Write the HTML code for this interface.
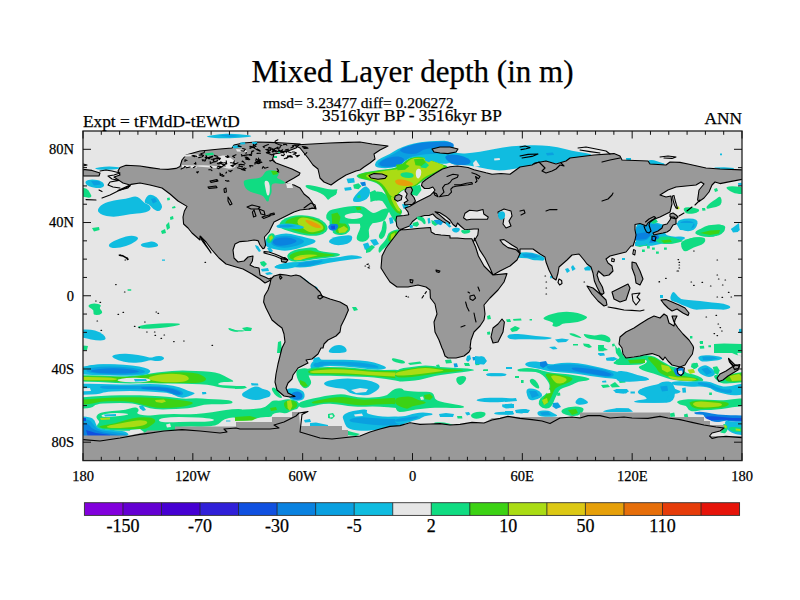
<!DOCTYPE html><html><head><meta charset="utf-8"><title>Mixed Layer depth</title><style>html,body{margin:0;padding:0;background:#fff;}svg{display:block;}text{font-family:"Liberation Serif",serif;fill:#000;stroke:#000;stroke-width:0.25px;}</style></head><body>
<svg width="800" height="600" viewBox="0 0 800 600">
<rect width="800" height="600" fill="#fff"/>
<clipPath id="c"><rect x="83.0" y="131.0" width="659.0" height="329.6"/></clipPath>
<g clip-path="url(#c)">
<rect x="83.0" y="131.0" width="659.0" height="329.6" fill="#e6e6e6"/>
<path d="M282.0 220.5Q285.0 218.0 290.5 216.5Q296.0 215.0 302.0 215.3Q308.0 215.6 313.0 216.8Q318.0 218.0 322.0 220.5Q326.0 223.0 327.2 226.0Q328.4 229.0 326.2 231.5Q324.0 234.0 319.0 235.2Q314.0 236.4 307.0 235.4Q300.0 234.4 294.0 232.7Q288.0 231.0 284.0 229.5Q280.0 228.0 279.5 225.5Q279.0 223.0 282.0 220.5Z" fill="#10dc82"/>
<path d="M288.0 219.8Q292.0 217.6 297.0 216.8Q302.0 216.0 308.0 217.0Q314.0 218.0 318.5 220.5Q323.0 223.0 324.5 226.0Q326.0 229.0 323.5 231.0Q321.0 233.0 315.5 233.7Q310.0 234.4 304.0 233.2Q298.0 232.0 293.0 230.0Q288.0 228.0 286.0 225.0Q284.0 222.0 288.0 219.8Z" fill="#3cd214"/>
<path d="M299.5 218.5Q302.0 217.0 307.0 218.0Q312.0 219.0 317.0 221.5Q322.0 224.0 323.0 226.5Q324.0 229.0 321.5 230.0Q319.0 231.0 314.5 232.0Q310.0 233.0 307.0 231.0Q304.0 229.0 301.0 227.0Q298.0 225.0 297.5 222.5Q297.0 220.0 299.5 218.5Z" fill="#aadc14"/>
<path d="M307.0 220.0Q310.0 220.4 315.0 222.7Q320.0 225.0 320.8 226.5Q321.6 228.0 318.8 228.0Q316.0 228.0 312.5 226.5Q309.0 225.0 306.5 222.3Q304.0 219.6 307.0 220.0Z" fill="#e6a00a"/>
<path d="M281.0 224.0Q286.0 223.0 292.0 223.7Q298.0 224.4 302.0 226.0Q306.0 227.6 302.0 228.4Q298.0 229.2 292.0 228.8Q286.0 228.4 281.5 228.2Q277.0 228.0 276.5 226.5Q276.0 225.0 281.0 224.0Z" fill="#10bce0"/>
<path d="M279.0 225.6 L288.0 224.4 L296.0 226.0 L288.0 227.6 L280.0 227.2Z" fill="#0aa0e0"/>
<path d="M332.5 211.0Q336.0 210.0 339.0 211.0Q342.0 212.0 343.0 215.0Q344.0 218.0 346.0 220.5Q348.0 223.0 349.5 226.0Q351.0 229.0 349.0 231.5Q347.0 234.0 343.0 234.8Q339.0 235.6 335.5 234.3Q332.0 233.0 332.8 231.0Q333.6 229.0 331.3 227.5Q329.0 226.0 329.5 223.0Q330.0 220.0 329.0 218.0Q328.0 216.0 328.5 214.0Q329.0 212.0 332.5 211.0Z" fill="#10dc82"/>
<path d="M336.0 214.5Q339.0 214.0 340.5 217.0Q342.0 220.0 344.5 222.5Q347.0 225.0 348.0 227.5Q349.0 230.0 346.5 231.5Q344.0 233.0 340.5 233.3Q337.0 233.6 336.0 231.8Q335.0 230.0 337.0 228.5Q339.0 227.0 337.5 225.0Q336.0 223.0 334.2 221.5Q332.4 220.0 332.7 217.5Q333.0 215.0 336.0 214.5Z" fill="#3cd214"/>
<path d="M334.0 216.0 L339.0 215.6 L340.4 221.0 L337.0 223.0 L334.0 220.0Z" fill="#aadc14"/>
<path d="M338.0 229.0 L344.0 226.0 L348.0 229.0 L345.0 232.4 L339.0 233.0Z" fill="#aadc14"/>
<path d="M331.2 224.0Q334.0 223.0 336.5 224.0Q339.0 225.0 338.0 227.5Q337.0 230.0 334.0 230.5Q331.0 231.0 329.5 229.5Q328.0 228.0 328.2 226.5Q328.4 225.0 331.2 224.0Z" fill="#0a82e0"/>
<path d="M331.0 226.0 L335.0 225.6 L335.0 229.0 L331.6 229.4Z" fill="#1050e0"/>
<path d="M341.0 209.5Q346.0 209.0 351.0 207.5Q356.0 206.0 360.0 206.2Q364.0 206.4 366.0 208.2Q368.0 210.0 371.0 212.0Q374.0 214.0 378.0 211.5Q382.0 209.0 385.5 208.5Q389.0 208.0 389.5 210.0Q390.0 212.0 387.0 214.0Q384.0 216.0 381.0 217.5Q378.0 219.0 375.0 221.0Q372.0 223.0 370.0 226.5Q368.0 230.0 369.0 233.5Q370.0 237.0 368.0 239.3Q366.0 241.6 363.0 241.8Q360.0 242.0 358.0 240.5Q356.0 239.0 357.0 236.0Q358.0 233.0 359.5 230.0Q361.0 227.0 360.0 224.5Q359.0 222.0 361.5 220.0Q364.0 218.0 365.0 216.0Q366.0 214.0 364.0 213.0Q362.0 212.0 359.0 213.0Q356.0 214.0 353.0 215.5Q350.0 217.0 347.5 217.5Q345.0 218.0 343.5 215.0Q342.0 212.0 339.0 211.0Q336.0 210.0 341.0 209.5Z" fill="#10dc82"/>
<path d="M358.0 214.0 L361.6 212.8 L364.0 215.0 L361.0 217.2 L358.0 216.4Z" fill="#e6e6e6"/>
<path d="M384.5 220.5Q386.0 221.0 386.5 224.5Q387.0 228.0 386.0 232.0Q385.0 236.0 383.0 238.0Q381.0 240.0 379.5 238.0Q378.0 236.0 380.0 233.0Q382.0 230.0 382.5 225.0Q383.0 220.0 384.5 220.5Z" fill="#10dc82"/>
<path d="M391.0 231.5Q394.0 230.0 397.0 229.5Q400.0 229.0 399.0 231.0Q398.0 233.0 396.0 236.5Q394.0 240.0 391.0 242.5Q388.0 245.0 385.0 247.5Q382.0 250.0 380.5 252.0Q379.0 254.0 378.5 251.0Q378.0 248.0 380.5 245.5Q383.0 243.0 385.0 240.5Q387.0 238.0 387.5 235.5Q388.0 233.0 391.0 231.5Z" fill="#10dc82"/>
<path d="M392.0 232.3Q394.4 231.0 396.2 231.0Q398.0 231.0 396.5 234.5Q395.0 238.0 392.5 240.2Q390.0 242.4 388.8 241.2Q387.6 240.0 388.6 236.8Q389.6 233.6 392.0 232.3Z" fill="#3cd214"/>
<path d="M391.0 234.4 L395.0 232.4 L394.4 237.0 L390.6 240.0Z" fill="#aadc14"/>
<path d="M366.0 248.0 L372.0 245.0 L375.0 247.0 L370.0 252.0 L366.0 253.0Z" fill="#10dc82"/>
<path d="M363.0 244.0 L368.0 242.4 L370.0 247.0 L365.0 250.0Z" fill="#10bce0"/>
<path d="M370.0 240.0 L376.0 239.0 L379.0 244.0 L374.0 246.0Z" fill="#10bce0"/>
<path d="M389.0 218.0 L392.4 217.0 L393.6 223.0 L390.0 224.0Z" fill="#10bce0"/>
<path d="M331.0 239.0Q334.0 237.0 339.0 236.3Q344.0 235.6 348.0 235.3Q352.0 235.0 352.2 237.5Q352.4 240.0 350.2 242.0Q348.0 244.0 343.0 244.8Q338.0 245.6 334.5 244.8Q331.0 244.0 329.5 242.5Q328.0 241.0 331.0 239.0Z" fill="#10bce0"/>
<path d="M270.5 236.5Q276.0 235.0 281.0 234.0Q286.0 233.0 291.0 234.0Q296.0 235.0 302.0 236.5Q308.0 238.0 312.0 239.0Q316.0 240.0 315.5 241.5Q315.0 243.0 310.5 244.5Q306.0 246.0 301.0 247.5Q296.0 249.0 291.0 250.0Q286.0 251.0 282.0 250.5Q278.0 250.0 271.5 248.5Q265.0 247.0 265.0 242.5Q265.0 238.0 270.5 236.5Z" fill="#10bce0"/>
<path d="M275.5 237.3Q280.0 235.6 286.0 235.8Q292.0 236.0 297.0 237.5Q302.0 239.0 303.5 240.5Q305.0 242.0 301.5 243.8Q298.0 245.6 292.0 246.8Q286.0 248.0 281.0 247.5Q276.0 247.0 273.5 245.5Q271.0 244.0 271.0 241.5Q271.0 239.0 275.5 237.3Z" fill="#0aa0e0"/>
<path d="M277.0 238.5Q282.0 237.0 287.0 237.5Q292.0 238.0 295.0 239.5Q298.0 241.0 295.0 242.5Q292.0 244.0 287.0 245.0Q282.0 246.0 278.0 245.5Q274.0 245.0 273.0 242.5Q272.0 240.0 277.0 238.5Z" fill="#0a82e0"/>
<path d="M290.5 252.0Q294.0 250.0 299.0 249.0Q304.0 248.0 310.0 247.5Q316.0 247.0 317.0 249.0Q318.0 251.0 324.0 251.7Q330.0 252.4 335.0 253.0Q340.0 253.6 340.0 254.8Q340.0 256.0 335.0 256.8Q330.0 257.6 323.0 258.3Q316.0 259.0 310.0 260.0Q304.0 261.0 298.0 261.5Q292.0 262.0 289.8 260.5Q287.6 259.0 287.3 256.5Q287.0 254.0 290.5 252.0Z" fill="#10dc82"/>
<path d="M293.5 253.0Q298.0 251.0 304.0 250.5Q310.0 250.0 313.5 251.2Q317.0 252.4 323.5 253.2Q330.0 254.0 333.5 254.5Q337.0 255.0 332.5 255.7Q328.0 256.4 319.0 257.2Q310.0 258.0 303.0 259.2Q296.0 260.4 293.0 259.7Q290.0 259.0 289.5 257.0Q289.0 255.0 293.5 253.0Z" fill="#3cd214"/>
<path d="M296.5 256.5Q300.0 255.0 305.0 254.7Q310.0 254.4 315.0 254.7Q320.0 255.0 315.0 256.0Q310.0 257.0 305.0 258.5Q300.0 260.0 297.0 260.2Q294.0 260.4 293.5 259.2Q293.0 258.0 296.5 256.5Z" fill="#aadc14"/>
<path d="M295.0 259.0 L302.0 257.0 L307.0 257.6 L300.0 260.0Z" fill="#dcc814"/>
<path d="M280.0 264.5Q286.0 263.0 293.0 262.5Q300.0 262.0 308.0 260.8Q316.0 259.6 323.0 258.8Q330.0 258.0 335.0 257.5Q340.0 257.0 345.0 256.0Q350.0 255.0 355.0 255.5Q360.0 256.0 361.5 257.0Q363.0 258.0 359.5 258.5Q356.0 259.0 351.0 259.5Q346.0 260.0 340.0 261.0Q334.0 262.0 328.0 263.0Q322.0 264.0 316.0 265.5Q310.0 267.0 305.0 267.3Q300.0 267.6 295.0 267.3Q290.0 267.0 286.0 267.7Q282.0 268.4 278.5 268.4Q275.0 268.4 274.5 267.2Q274.0 266.0 280.0 264.5Z" fill="#10bce0"/>
<path d="M297.0 263.2Q302.0 262.4 309.0 261.4Q316.0 260.4 320.0 260.4Q324.0 260.4 322.0 261.8Q320.0 263.2 315.0 264.6Q310.0 266.0 305.0 266.4Q300.0 266.8 296.5 266.4Q293.0 266.0 292.5 265.0Q292.0 264.0 297.0 263.2Z" fill="#0aa0e0"/>
<path d="M310.5 185.2Q316.0 186.0 321.0 187.5Q326.0 189.0 331.8 189.8Q337.6 190.6 336.8 192.8Q336.0 195.0 333.3 196.3Q330.6 197.6 329.3 199.1Q328.0 200.5 327.0 198.8Q326.0 197.0 323.5 195.0Q321.0 193.0 316.5 191.5Q312.0 190.0 309.0 189.0Q306.0 188.0 305.5 186.2Q305.0 184.5 310.5 185.2Z" fill="#10dc82"/>
<path d="M362.0 188.5Q366.0 185.0 368.0 188.0Q370.0 191.0 369.0 194.0Q368.0 197.0 365.0 199.0Q362.0 201.0 358.0 201.5Q354.0 202.0 353.2 200.5Q352.4 199.0 355.2 195.5Q358.0 192.0 362.0 188.5Z" fill="#10bce0"/>
<path d="M374.5 192.0Q378.0 191.0 382.0 192.5Q386.0 194.0 388.0 196.5Q390.0 199.0 392.0 202.0Q394.0 205.0 397.0 206.5Q400.0 208.0 401.5 210.0Q403.0 212.0 400.5 213.5Q398.0 215.0 395.0 213.0Q392.0 211.0 390.0 208.0Q388.0 205.0 385.0 202.5Q382.0 200.0 378.0 200.5Q374.0 201.0 372.0 199.5Q370.0 198.0 370.5 195.5Q371.0 193.0 374.5 192.0Z" fill="#10dc82"/>
<path d="M387.5 189.0Q390.0 185.0 394.0 185.0Q398.0 185.0 396.5 191.0Q395.0 197.0 393.0 198.5Q391.0 200.0 389.5 199.0Q388.0 198.0 386.5 195.5Q385.0 193.0 387.5 189.0Z" fill="#aadc14"/>
<path d="M392.5 204.0Q395.0 206.0 397.5 207.5Q400.0 209.0 400.5 210.7Q401.0 212.4 399.0 213.0Q397.0 213.6 394.7 211.6Q392.4 209.6 391.0 207.3Q389.6 205.0 389.8 203.5Q390.0 202.0 392.5 204.0Z" fill="#3cd214"/>
<path d="M392.4 206.0 L398.0 209.6 L399.6 212.0 L396.4 212.4 L393.0 209.0Z" fill="#aadc14"/>
<path d="M378.0 160.0Q381.0 157.8 385.5 155.9Q390.0 154.0 393.8 151.4Q397.5 148.8 402.8 146.9Q408.0 145.0 414.0 143.5Q420.0 142.0 427.5 141.4Q435.0 140.8 444.4 140.8Q453.8 140.8 453.8 151.2Q453.8 161.5 448.9 163.0Q444.0 164.5 439.5 163.4Q435.0 162.2 429.0 159.6Q423.0 157.0 418.5 157.0Q414.0 157.0 409.5 158.5Q405.0 160.0 402.0 163.0Q399.0 166.0 394.5 167.1Q390.0 168.2 385.5 168.2Q381.0 168.2 378.0 167.5Q375.0 166.8 375.0 164.5Q375.0 162.2 378.0 160.0Z" fill="#10bce0"/>
<path d="M381.0 160.4Q384.0 158.5 388.5 156.6Q393.0 154.8 396.8 152.1Q400.5 149.5 405.0 147.6Q409.5 145.8 414.8 144.2Q420.0 142.8 427.5 142.1Q435.0 141.4 444.4 141.6Q453.8 141.7 453.8 147.8Q453.8 154.0 447.4 153.2Q441.0 152.5 438.0 153.2Q435.0 154.0 430.5 154.0Q426.0 154.0 421.5 154.8Q417.0 155.5 412.5 156.6Q408.0 157.8 405.0 161.1Q402.0 164.5 397.5 166.0Q393.0 167.5 387.8 167.5Q382.5 167.5 380.2 166.6Q378.0 165.7 378.0 164.0Q378.0 162.2 381.0 160.4Z" fill="#0aa0e0"/>
<path d="M382.5 160.4Q385.5 158.5 390.0 157.4Q394.5 156.2 398.2 156.6Q402.0 157.0 403.5 158.5Q405.0 160.0 402.8 162.6Q400.5 165.2 396.8 166.0Q393.0 166.8 388.5 166.8Q384.0 166.8 381.8 166.0Q379.5 165.2 379.5 163.8Q379.5 162.2 382.5 160.4Z" fill="#0a82e0"/>
<path d="M403.5 147.6Q408.0 145.8 414.0 144.2Q420.0 142.8 427.5 142.2Q435.0 141.7 444.4 141.8Q453.8 142.0 453.8 145.0Q453.8 148.0 447.4 147.2Q441.0 146.5 436.5 147.2Q432.0 148.0 427.5 148.8Q423.0 149.5 420.0 151.8Q417.0 154.0 412.5 154.0Q408.0 154.0 405.0 153.2Q402.0 152.5 400.5 151.0Q399.0 149.5 403.5 147.6Z" fill="#0a82e0"/>
<path d="M360.0 173.7Q364.5 172.3 369.8 171.6Q375.0 170.8 379.5 170.1Q384.0 169.3 388.5 168.9Q393.0 168.6 396.8 167.1Q400.5 165.6 403.5 162.6Q406.5 159.6 410.2 158.1Q414.0 156.6 418.5 156.6Q423.0 156.6 429.0 159.2Q435.0 161.8 439.5 163.3Q444.0 164.8 446.6 165.8Q449.2 166.8 443.6 169.2Q438.0 171.7 435.0 173.6Q432.0 175.4 429.0 176.9Q426.0 178.4 423.0 180.7Q420.0 182.9 417.8 184.8Q415.5 186.7 411.8 187.8Q408.0 188.9 405.0 189.7Q402.0 190.4 399.8 192.7Q397.5 194.9 396.2 197.3Q394.9 199.8 395.7 202.4Q396.4 205.0 398.7 207.2Q400.9 209.5 401.7 211.8Q402.4 214.0 399.8 214.2Q397.1 214.4 394.1 211.4Q391.1 208.3 389.6 205.3Q388.1 202.3 387.3 199.3Q386.6 196.3 385.1 193.3Q383.6 190.3 381.3 187.3Q379.1 184.3 376.1 182.9Q373.1 181.4 369.3 180.7Q365.6 179.9 362.0 179.1Q358.5 178.3 357.0 176.7Q355.5 175.0 360.0 173.7Z" fill="#10dc82"/>
<path d="M360.8 173.9Q364.5 172.8 369.8 172.0Q375.0 171.2 379.5 170.5Q384.0 169.8 388.5 169.4Q393.0 169.0 396.8 167.5Q400.5 166.0 403.5 163.0Q406.5 160.0 410.2 158.5Q414.0 157.0 418.5 157.0Q423.0 157.0 429.0 159.6Q435.0 162.2 439.5 163.8Q444.0 165.2 446.2 166.0Q448.5 166.8 443.2 169.0Q438.0 171.2 435.0 173.1Q432.0 175.0 429.0 176.5Q426.0 178.0 423.0 180.2Q420.0 182.5 417.8 184.4Q415.5 186.2 411.8 187.4Q408.0 188.5 405.0 189.2Q402.0 190.0 399.8 192.2Q397.5 194.5 396.0 197.1Q394.5 199.8 395.2 202.4Q396.0 205.0 398.2 207.2Q400.5 209.5 401.2 211.8Q402.0 214.0 399.8 214.0Q397.5 214.0 394.5 211.0Q391.5 208.0 390.0 205.0Q388.5 202.0 387.8 199.0Q387.0 196.0 385.5 193.0Q384.0 190.0 381.8 187.0Q379.5 184.0 376.5 182.5Q373.5 181.0 369.8 180.2Q366.0 179.5 363.0 178.8Q360.0 178.0 358.5 176.5Q357.0 175.0 360.8 173.9Z" fill="#3cd214"/>
<path d="M369.8 173.9Q375.0 172.8 381.0 171.6Q387.0 170.5 391.5 170.1Q396.0 169.8 399.8 168.2Q403.5 166.8 405.8 163.8Q408.0 160.8 411.0 159.2Q414.0 157.8 418.5 157.8Q423.0 157.8 426.0 158.9Q429.0 160.0 433.5 161.5Q438.0 163.0 441.8 164.5Q445.5 166.0 441.8 168.2Q438.0 170.5 434.2 172.4Q430.5 174.2 426.8 176.1Q423.0 178.0 420.0 181.0Q417.0 184.0 414.0 185.5Q411.0 187.0 407.2 188.1Q403.5 189.2 400.9 191.1Q398.2 193.0 396.4 195.2Q394.5 197.5 392.2 196.8Q390.0 196.0 388.5 193.0Q387.0 190.0 384.8 187.0Q382.5 184.0 379.5 182.1Q376.5 180.2 372.8 179.5Q369.0 178.8 366.8 176.9Q364.5 175.0 369.8 173.9Z" fill="#aadc14"/>
<path d="M397.5 179.5Q400.5 178.8 405.8 180.2Q411.0 181.8 412.5 183.2Q414.0 184.8 411.0 185.5Q408.0 186.2 404.2 185.9Q400.5 185.5 398.2 184.8Q396.0 184.0 395.2 182.1Q394.5 180.2 397.5 179.5Z" fill="#e6a00a"/>
<path d="M404.2 172.4Q408.0 172.0 411.0 173.1Q414.0 174.2 413.6 176.1Q413.2 178.0 409.1 178.0Q405.0 178.0 402.6 176.9Q400.2 175.8 400.4 174.2Q400.5 172.8 404.2 172.4Z" fill="#10dc82"/>
<path d="M418.1 168.8Q420.0 168.2 420.9 170.1Q421.8 172.0 420.9 175.0Q420.0 178.0 418.5 178.4Q417.0 178.8 416.2 176.5Q415.5 174.2 415.9 171.8Q416.2 169.3 418.1 168.8Z" fill="#e6e6e6"/>
<path d="M420.0 163.8 L426.0 162.2 L429.0 165.2 L426.0 168.2 L420.8 167.5Z" fill="#10dc82"/>
<path d="M424.5 157.0 L429.0 156.2 L432.0 160.0 L429.0 162.2 L425.2 160.8Z" fill="#10bce0"/>
<path d="M353.2 184.8 L358.5 183.2 L361.5 186.2 L358.5 189.2 L354.0 188.5Z" fill="#10dc82"/>
<path d="M346.5 178.8 L354.0 178.0 L354.8 182.5 L348.0 183.2Z" fill="#10bce0"/>
<path d="M360.0 182.5 L365.2 181.8 L366.0 185.5 L362.2 186.2Z" fill="#0a82e0"/>
<path d="M357.0 195.2Q361.5 190.0 365.2 188.5Q369.0 187.0 369.8 190.0Q370.5 193.0 369.0 196.0Q367.5 199.0 363.8 200.5Q360.0 202.0 357.0 202.0Q354.0 202.0 353.2 201.2Q352.5 200.5 357.0 195.2Z" fill="#10bce0"/>
<path d="M344.2 187.8 L351.0 187.0 L351.8 190.0 L345.0 190.8Z" fill="#10bce0"/>
<path d="M369.8 192.2 L375.0 190.0 L378.0 194.5 L375.0 200.5 L370.5 202.0Z" fill="#10dc82"/>
<path d="M326.2 190.0 L337.5 189.2 L336.0 194.5 L326.2 197.5Z" fill="#10dc82"/>
<path d="M332.6 209.5Q339.0 208.0 343.5 207.2Q348.0 206.5 354.0 206.1Q360.0 205.8 363.0 206.9Q366.0 208.0 366.0 211.0Q366.0 214.0 370.5 215.5Q375.0 217.0 378.8 214.0Q382.5 211.0 384.8 210.2Q387.0 209.5 387.8 211.8Q388.5 214.0 385.5 218.9Q382.5 223.8 354.4 223.8Q326.2 223.8 326.2 217.4Q326.2 211.0 332.6 209.5Z" fill="#10dc82"/>
<path d="M345.8 214.8Q348.0 213.2 354.0 212.9Q360.0 212.5 361.9 214.0Q363.8 215.5 361.9 217.0Q360.0 218.5 354.0 218.9Q348.0 219.2 345.8 217.8Q343.5 216.2 345.8 214.8Z" fill="#e6e6e6"/>
<path d="M355.5 207.2 L360.0 206.8 L361.5 209.5 L357.0 210.2Z" fill="#3cd214"/>
<path d="M331.5 214.0 L337.5 212.5 L340.5 217.0 L339.0 223.8 L332.2 223.8Z" fill="#3cd214"/>
<path d="M383.2 193.0Q387.0 196.0 388.5 200.5Q390.0 205.0 393.8 209.5Q397.5 214.0 399.8 214.0Q402.0 214.0 402.8 218.9Q403.5 223.8 399.8 223.8Q396.0 223.8 393.0 218.9Q390.0 214.0 387.8 209.5Q385.5 205.0 382.5 201.2Q379.5 197.5 379.5 193.8Q379.5 190.0 383.2 193.0Z" fill="#10dc82"/>
<path d="M411.0 187.0 L420.0 184.8 L421.5 190.0 L417.0 196.0 L411.0 194.5Z" fill="#10dc82"/>
<path d="M402.0 204.2 L408.0 203.5 L408.8 208.0 L403.5 208.8Z" fill="#10bce0"/>
<path d="M357.0 196.0 L360.0 194.5 L360.8 197.5 L357.8 198.2Z" fill="#10dc82"/>
<path d="M452.0 151.0Q458.0 154.0 465.0 153.5Q472.0 153.0 480.0 151.7Q488.0 150.4 496.0 148.7Q504.0 147.0 512.0 146.3Q520.0 145.6 530.0 145.3Q540.0 145.0 549.0 146.0Q558.0 147.0 565.0 149.0Q572.0 151.0 579.0 152.0Q586.0 153.0 590.0 154.0Q594.0 155.0 582.0 157.0Q570.0 159.0 568.0 160.0Q566.0 161.0 561.0 162.5Q556.0 164.0 551.0 162.5Q546.0 161.0 540.5 162.0Q535.0 163.0 533.5 164.0Q532.0 165.0 526.0 166.5Q520.0 168.0 510.0 169.5Q500.0 171.0 494.0 170.0Q488.0 169.0 480.0 167.5Q472.0 166.0 468.0 165.5Q464.0 165.0 459.0 165.0Q454.0 165.0 451.0 163.5Q448.0 162.0 446.0 159.0Q444.0 156.0 445.0 152.0Q446.0 148.0 452.0 151.0Z" fill="#10bce0"/>
<path d="M448.0 155.0Q452.0 154.0 458.0 155.0Q464.0 156.0 468.0 158.5Q472.0 161.0 470.0 163.0Q468.0 165.0 462.0 165.0Q456.0 165.0 452.0 163.5Q448.0 162.0 446.0 159.0Q444.0 156.0 448.0 155.0Z" fill="#0a82e0"/>
<path d="M473.0 163.0 L476.0 160.0 L480.0 166.0 L474.0 167.0Z" fill="#e6e6e6"/>
<path d="M494.0 158.4 L499.6 158.0 L500.0 160.0 L494.4 160.4Z" fill="#e6e6e6"/>
<path d="M546.0 153.0 L553.0 152.4 L554.0 155.0 L547.0 155.6Z" fill="#0aa0e0"/>
<path d="M651.0 160.0Q654.0 160.0 657.0 161.2Q660.0 162.4 663.0 163.2Q666.0 164.0 663.0 165.0Q660.0 166.0 656.0 165.8Q652.0 165.6 650.5 164.6Q649.0 163.6 648.5 161.8Q648.0 160.0 651.0 160.0Z" fill="#10bce0"/>
<path d="M626.0 158.0 L631.0 158.0 L631.0 160.4 L626.4 160.4Z" fill="#10bce0"/>
<path d="M651.0 160.5Q654.0 161.0 657.0 162.0Q660.0 163.0 663.0 163.5Q666.0 164.0 663.0 165.0Q660.0 166.0 656.0 165.8Q652.0 165.6 650.5 164.6Q649.0 163.6 648.5 161.8Q648.0 160.0 651.0 160.5Z" fill="#10bce0"/>
<path d="M714.0 167.6 L724.0 167.2 L734.0 168.0 L733.0 170.0 L720.0 170.0Z" fill="#10bce0"/>
<path d="M720.0 153.6 L722.0 153.6 L722.0 155.2 L720.0 155.2Z" fill="#10bce0"/>
<path d="M99.5 207.0Q102.0 204.0 108.0 202.0Q114.0 200.0 120.0 199.5Q126.0 199.0 130.5 197.5Q135.0 196.0 137.5 197.0Q140.0 198.0 142.0 200.5Q144.0 203.0 147.0 204.0Q150.0 205.0 150.5 207.5Q151.0 210.0 147.5 211.5Q144.0 213.0 137.0 213.5Q130.0 214.0 123.0 215.5Q116.0 217.0 111.0 216.5Q106.0 216.0 103.0 215.0Q100.0 214.0 98.5 212.0Q97.0 210.0 99.5 207.0Z" fill="#10bce0"/>
<path d="M148.0 195.5Q150.0 194.0 153.5 195.5Q157.0 197.0 158.5 199.5Q160.0 202.0 161.5 204.5Q163.0 207.0 161.0 209.5Q159.0 212.0 156.0 210.5Q153.0 209.0 151.0 206.5Q149.0 204.0 146.5 203.5Q144.0 203.0 145.0 200.0Q146.0 197.0 148.0 195.5Z" fill="#10bce0"/>
<path d="M151.0 199.0 L155.0 198.0 L157.0 201.6 L153.0 203.6Z" fill="#0aa0e0"/>
<path d="M88.5 180.0Q92.0 179.0 97.0 180.0Q102.0 181.0 103.5 183.5Q105.0 186.0 102.5 187.2Q100.0 188.4 96.0 188.0Q92.0 187.6 89.0 186.3Q86.0 185.0 85.5 183.0Q85.0 181.0 88.5 180.0Z" fill="#10bce0"/>
<path d="M91.0 181.0 L99.0 181.0 L101.0 184.4 L94.0 185.6Z" fill="#0aa0e0"/>
<path d="M81.0 187.5Q87.0 188.0 88.5 190.5Q90.0 193.0 91.0 195.0Q92.0 197.0 90.0 197.5Q88.0 198.0 81.5 196.5Q75.0 195.0 75.0 191.0Q75.0 187.0 81.0 187.5Z" fill="#10dc82"/>
<path d="M100.0 167.2Q106.0 166.4 113.0 166.7Q120.0 167.0 119.5 168.0Q119.0 169.0 112.5 169.5Q106.0 170.0 101.5 169.8Q97.0 169.6 95.5 168.8Q94.0 168.0 100.0 167.2Z" fill="#10bce0"/>
<path d="M92.0 228.0 L99.0 227.0 L99.6 230.0 L94.0 231.6Z" fill="#10dc82"/>
<path d="M166.0 225.0 L169.0 222.0 L170.0 228.0 L167.0 230.0Z" fill="#10dc82"/>
<path d="M161.0 231.0 L165.0 229.0 L166.0 233.0 L162.0 234.0Z" fill="#10dc82"/>
<path d="M170.0 217.0 L173.0 216.0 L173.6 219.0 L170.4 220.0Z" fill="#10dc82"/>
<path d="M172.0 207.0 L175.0 206.0 L175.6 208.0 L172.4 208.4Z" fill="#10dc82"/>
<path d="M167.0 198.0 L169.6 197.6 L170.0 200.0 L167.4 200.4Z" fill="#10dc82"/>
<path d="M114.0 241.0Q120.0 238.0 126.0 236.5Q132.0 235.0 136.0 236.5Q140.0 238.0 136.0 241.0Q132.0 244.0 126.0 246.0Q120.0 248.0 115.0 248.0Q110.0 248.0 109.0 246.0Q108.0 244.0 114.0 241.0Z" fill="#10bce0"/>
<path d="M144.0 243.0Q148.0 242.0 151.0 241.5Q154.0 241.0 157.0 243.5Q160.0 246.0 155.0 247.0Q150.0 248.0 146.0 247.5Q142.0 247.0 141.0 245.5Q140.0 244.0 144.0 243.0Z" fill="#10bce0"/>
<path d="M212.5 135.2Q220.0 134.0 226.0 133.8Q232.0 133.6 244.0 134.8Q256.0 136.0 248.0 137.0Q240.0 138.0 230.0 138.2Q220.0 138.4 215.0 138.0Q210.0 137.6 207.5 137.0Q205.0 136.4 212.5 135.2Z" fill="#10bce0"/>
<path d="M218.0 135.6 L230.0 134.6 L240.0 136.0 L230.0 137.2Z" fill="#0aa0e0"/>
<path d="M141.5 325.4Q146.0 324.4 153.0 324.0Q160.0 323.6 167.0 323.3Q174.0 323.0 178.0 323.5Q182.0 324.0 178.0 325.2Q174.0 326.4 167.0 327.2Q160.0 328.0 153.0 328.5Q146.0 329.0 142.5 328.7Q139.0 328.4 138.0 327.4Q137.0 326.4 141.5 325.4Z" fill="#10dc82"/>
<path d="M91.0 304.0Q94.0 303.0 98.0 304.0Q102.0 305.0 100.5 306.5Q99.0 308.0 101.0 310.0Q103.0 312.0 101.5 313.5Q100.0 315.0 96.5 315.0Q93.0 315.0 93.5 312.5Q94.0 310.0 91.5 308.8Q89.0 307.6 88.5 306.3Q88.0 305.0 91.0 304.0Z" fill="#10dc82"/>
<path d="M82.5 329.5Q90.0 329.0 95.0 330.5Q100.0 332.0 103.0 334.5Q106.0 337.0 105.5 338.7Q105.0 340.4 100.5 340.4Q96.0 340.4 91.0 339.4Q86.0 338.4 80.5 337.2Q75.0 336.0 75.0 333.0Q75.0 330.0 82.5 329.5Z" fill="#10bce0"/>
<path d="M75.0 345.0 L88.0 346.0 L87.0 350.0 L75.0 350.4Z" fill="#10dc82"/>
<path d="M115.0 354.8Q120.0 353.6 126.0 353.8Q132.0 354.0 138.0 355.0Q144.0 356.0 147.5 357.0Q151.0 358.0 153.5 357.0Q156.0 356.0 159.0 356.0Q162.0 356.0 163.5 357.2Q165.0 358.4 163.0 359.7Q161.0 361.0 158.0 361.0Q155.0 361.0 152.5 360.5Q150.0 360.0 146.0 361.2Q142.0 362.4 136.0 362.7Q130.0 363.0 124.0 361.7Q118.0 360.4 114.0 358.2Q110.0 356.0 115.0 354.8Z" fill="#10bce0"/>
<path d="M92.0 365.0Q100.0 364.0 110.0 364.5Q120.0 365.0 128.0 366.0Q136.0 367.0 138.0 370.0Q140.0 373.0 112.0 373.0Q84.0 373.0 84.0 369.5Q84.0 366.0 92.0 365.0Z" fill="#10bce0"/>
<path d="M230.0 328.5Q232.0 329.0 233.5 329.7Q235.0 330.4 240.0 330.2Q245.0 330.0 245.0 330.8Q245.0 331.6 239.5 331.6Q234.0 331.6 231.5 330.6Q229.0 329.6 228.5 328.8Q228.0 328.0 230.0 328.5Z" fill="#10dc82"/>
<path d="M162.0 259.6 L165.0 259.6 L165.0 260.8 L162.0 260.8Z" fill="#10bce0"/>
<path d="M127.6 289.2 L131.2 289.2 L131.2 290.8 L127.6 290.8Z" fill="#10dc82"/>
<path d="M230.5 328.5Q233.0 329.0 235.5 330.0Q238.0 331.0 238.5 331.5Q239.0 332.0 236.0 331.8Q233.0 331.6 231.0 330.8Q229.0 330.0 228.5 329.0Q228.0 328.0 230.5 328.5Z" fill="#10dc82"/>
<path d="M242.0 328.0 L247.0 327.0 L252.0 328.0 L251.0 331.0 L245.0 331.0Z" fill="#10dc82"/>
<path d="M278.0 342.0 L281.0 341.0 L282.0 353.0 L277.0 353.0Z" fill="#10dc82"/>
<path d="M352.0 307.0 L356.0 307.0 L358.0 310.0 L354.0 311.0Z" fill="#10dc82"/>
<path d="M255.0 245.0 L258.0 246.0 L261.0 251.0 L259.0 252.0 L256.0 248.0Z" fill="#10bce0"/>
<path d="M267.0 248.0 L270.0 247.0 L273.0 251.0 L270.0 253.0Z" fill="#10bce0"/>
<path d="M260.0 262.0 L264.0 261.0 L267.0 264.0 L264.0 267.0 L261.0 265.0Z" fill="#10dc82"/>
<path d="M261.0 269.0 L268.0 268.0 L269.0 271.0 L262.0 271.6Z" fill="#10bce0"/>
<path d="M265.0 273.0 L270.0 272.0 L273.0 274.0 L267.0 275.0Z" fill="#10bce0"/>
<path d="M269.5 234.2Q272.0 232.4 273.8 233.7Q275.6 235.0 274.3 237.5Q273.0 240.0 271.5 241.8Q270.0 243.6 268.2 242.8Q266.4 242.0 266.7 239.0Q267.0 236.0 269.5 234.2Z" fill="#10dc82"/>
<path d="M269.0 237.0 L272.0 235.0 L273.0 238.0 L270.0 241.0Z" fill="#aadc14"/>
<path d="M279.0 264.5Q284.0 263.0 289.0 262.5Q294.0 262.0 297.0 262.5Q300.0 263.0 298.0 265.0Q296.0 267.0 292.0 268.0Q288.0 269.0 283.0 269.0Q278.0 269.0 276.0 267.5Q274.0 266.0 279.0 264.5Z" fill="#10bce0"/>
<path d="M302.0 277.0Q304.0 278.0 307.0 280.5Q310.0 283.0 311.0 284.0Q312.0 285.0 310.5 285.0Q309.0 285.0 306.5 283.0Q304.0 281.0 302.5 279.5Q301.0 278.0 300.5 277.0Q300.0 276.0 302.0 277.0Z" fill="#10bce0"/>
<path d="M314.0 286.0 L317.0 287.0 L318.0 289.0 L315.0 288.0Z" fill="#10bce0"/>
<path d="M83.5 366.5Q92.0 365.0 99.0 364.5Q106.0 364.0 115.0 364.2Q124.0 364.4 132.0 365.4Q140.0 366.4 144.5 367.7Q149.0 369.0 150.0 370.5Q151.0 372.0 148.5 373.5Q146.0 375.0 138.0 375.5Q130.0 376.0 120.0 375.8Q110.0 375.6 101.0 375.3Q92.0 375.0 83.5 374.5Q75.0 374.0 75.0 371.0Q75.0 368.0 83.5 366.5Z" fill="#10bce0"/>
<path d="M93.0 367.7Q100.0 366.4 110.0 366.4Q120.0 366.4 129.0 367.4Q138.0 368.4 142.5 370.0Q147.0 371.6 143.5 372.8Q140.0 374.0 130.0 374.5Q120.0 375.0 110.0 374.5Q100.0 374.0 93.5 373.2Q87.0 372.4 86.5 370.7Q86.0 369.0 93.0 367.7Z" fill="#0aa0e0"/>
<path d="M100.0 369.0Q110.0 368.0 120.0 368.5Q130.0 369.0 136.0 370.3Q142.0 371.6 136.0 372.6Q130.0 373.6 120.0 373.6Q110.0 373.6 101.0 373.0Q92.0 372.4 91.0 371.2Q90.0 370.0 100.0 369.0Z" fill="#0a82e0"/>
<path d="M87.5 375.3Q100.0 375.6 110.0 376.0Q120.0 376.4 130.0 376.0Q140.0 375.6 145.0 374.6Q150.0 373.6 157.0 372.6Q164.0 371.6 172.0 371.0Q180.0 370.4 188.0 370.7Q196.0 371.0 203.0 371.3Q210.0 371.6 215.0 372.6Q220.0 373.6 224.0 375.8Q228.0 378.0 231.5 379.8Q235.0 381.6 231.5 381.8Q228.0 382.0 224.0 382.0Q220.0 382.0 218.5 383.5Q217.0 385.0 222.5 385.3Q228.0 385.6 236.5 386.0Q245.0 386.4 245.0 387.7Q245.0 389.0 236.5 388.7Q228.0 388.4 223.0 387.7Q218.0 387.0 213.0 385.7Q208.0 384.4 200.0 384.2Q192.0 384.0 184.0 383.8Q176.0 383.6 168.0 383.6Q160.0 383.6 153.0 383.3Q146.0 383.0 138.0 383.3Q130.0 383.6 123.0 383.3Q116.0 383.0 108.0 382.5Q100.0 382.0 87.5 381.8Q75.0 381.6 75.0 378.3Q75.0 375.0 87.5 375.3Z" fill="#10dc82"/>
<path d="M89.5 376.2Q104.0 376.4 114.0 376.8Q124.0 377.2 134.0 376.4Q144.0 375.6 152.0 374.3Q160.0 373.0 170.0 372.5Q180.0 372.0 188.0 372.5Q196.0 373.0 200.0 374.5Q204.0 376.0 205.5 378.0Q207.0 380.0 203.5 381.5Q200.0 383.0 190.0 383.0Q180.0 383.0 170.0 383.0Q160.0 383.0 153.0 382.5Q146.0 382.0 133.0 382.0Q120.0 382.0 110.0 381.5Q100.0 381.0 87.5 380.7Q75.0 380.4 75.0 378.2Q75.0 376.0 89.5 376.2Z" fill="#3cd214"/>
<path d="M87.5 377.0Q100.0 377.0 108.0 377.5Q116.0 378.0 117.0 379.0Q118.0 380.0 109.0 380.2Q100.0 380.4 87.5 380.2Q75.0 380.0 75.0 378.5Q75.0 377.0 87.5 377.0Z" fill="#aadc14"/>
<path d="M154.0 375.7Q160.0 374.4 167.0 374.0Q174.0 373.6 180.0 374.3Q186.0 375.0 188.0 377.0Q190.0 379.0 187.0 380.5Q184.0 382.0 176.0 382.2Q168.0 382.4 162.0 382.0Q156.0 381.6 152.5 380.6Q149.0 379.6 148.5 378.3Q148.0 377.0 154.0 375.7Z" fill="#aadc14"/>
<path d="M121.5 378.8Q126.0 378.0 133.0 377.8Q140.0 377.6 145.0 378.3Q150.0 379.0 150.5 380.0Q151.0 381.0 145.5 381.7Q140.0 382.4 132.0 382.2Q124.0 382.0 121.0 381.5Q118.0 381.0 117.5 380.3Q117.0 379.6 121.5 378.8Z" fill="#e6e6e6"/>
<path d="M134.0 379.0 L146.0 379.0 L147.0 381.0 L135.0 381.4Z" fill="#10bce0"/>
<path d="M83.5 383.8Q92.0 383.6 101.0 384.0Q110.0 384.4 120.0 384.4Q130.0 384.4 140.0 384.2Q150.0 384.0 158.0 384.2Q166.0 384.4 173.0 385.7Q180.0 387.0 184.0 389.0Q188.0 391.0 192.0 392.0Q196.0 393.0 194.0 394.0Q192.0 395.0 188.0 396.5Q184.0 398.0 181.0 397.5Q178.0 397.0 174.0 395.0Q170.0 393.0 163.0 392.5Q156.0 392.0 148.0 391.5Q140.0 391.0 130.0 391.0Q120.0 391.0 112.0 391.5Q104.0 392.0 102.0 393.0Q100.0 394.0 96.0 394.2Q92.0 394.4 83.5 394.7Q75.0 395.0 75.0 389.5Q75.0 384.0 83.5 383.8Z" fill="#10bce0"/>
<path d="M75.0 388.4 L90.0 388.0 L91.0 391.0 L75.0 391.6Z" fill="#e6e6e6"/>
<path d="M110.0 385.8Q120.0 386.0 130.0 386.0Q140.0 386.0 150.0 386.0Q160.0 386.0 167.0 387.0Q174.0 388.0 179.0 390.0Q184.0 392.0 183.0 394.0Q182.0 396.0 178.0 395.5Q174.0 395.0 170.0 393.0Q166.0 391.0 158.0 390.3Q150.0 389.6 140.0 389.3Q130.0 389.0 120.0 389.0Q110.0 389.0 105.0 388.7Q100.0 388.4 100.0 387.0Q100.0 385.6 110.0 385.8Z" fill="#0aa0e0"/>
<path d="M150.0 387.0Q160.0 387.0 167.0 388.0Q174.0 389.0 178.0 391.0Q182.0 393.0 180.0 394.3Q178.0 395.6 173.0 393.6Q168.0 391.6 162.0 390.8Q156.0 390.0 149.0 389.6Q142.0 389.2 141.0 388.1Q140.0 387.0 150.0 387.0Z" fill="#0a82e0"/>
<path d="M202.0 392.0 L206.0 392.0 L206.4 394.0 L202.4 394.4Z" fill="#10bce0"/>
<path d="M83.5 397.2Q92.0 396.4 101.0 396.0Q110.0 395.6 120.0 395.3Q130.0 395.0 140.0 395.3Q150.0 395.6 160.0 396.3Q170.0 397.0 177.0 398.0Q184.0 399.0 190.0 398.5Q196.0 398.0 202.0 398.5Q208.0 399.0 214.0 399.3Q220.0 399.6 226.0 400.0Q232.0 400.4 232.5 402.0Q233.0 403.6 226.5 404.0Q220.0 404.4 214.0 404.2Q208.0 404.0 204.0 404.8Q200.0 405.6 196.0 406.8Q192.0 408.0 184.0 408.5Q176.0 409.0 168.0 409.3Q160.0 409.6 155.0 409.0Q150.0 408.4 145.0 406.7Q140.0 405.0 135.0 404.0Q130.0 403.0 120.0 403.0Q110.0 403.0 103.0 403.5Q96.0 404.0 94.0 406.0Q92.0 408.0 83.5 408.5Q75.0 409.0 75.0 403.5Q75.0 398.0 83.5 397.2Z" fill="#10dc82"/>
<path d="M83.5 399.5Q92.0 399.0 98.0 398.5Q104.0 398.0 115.0 397.5Q126.0 397.0 136.0 397.3Q146.0 397.6 156.0 398.0Q166.0 398.4 175.0 399.4Q184.0 400.4 189.5 401.4Q195.0 402.4 191.5 404.2Q188.0 406.0 180.0 407.0Q172.0 408.0 164.0 408.0Q156.0 408.0 150.0 406.5Q144.0 405.0 138.0 403.3Q132.0 401.6 124.0 401.3Q116.0 401.0 108.0 401.3Q100.0 401.6 96.0 402.8Q92.0 404.0 83.5 404.5Q75.0 405.0 75.0 402.5Q75.0 400.0 83.5 399.5Z" fill="#3cd214"/>
<path d="M155.0 400.0 L164.0 399.6 L166.0 401.6 L162.0 403.0 L156.0 402.0Z" fill="#aadc14"/>
<path d="M82.5 416.5Q90.0 417.0 92.5 418.5Q95.0 420.0 95.5 423.0Q96.0 426.0 99.0 427.5Q102.0 429.0 109.0 429.5Q116.0 430.0 122.0 431.0Q128.0 432.0 128.5 434.7Q129.0 437.4 102.0 437.4Q75.0 437.4 75.0 426.7Q75.0 416.0 82.5 416.5Z" fill="#10bce0"/>
<path d="M82.0 419.0Q89.0 419.0 91.0 421.5Q93.0 424.0 95.5 427.0Q98.0 430.0 106.0 431.0Q114.0 432.0 120.5 433.0Q127.0 434.0 127.0 435.5Q127.0 437.0 101.0 437.0Q75.0 437.0 75.0 428.0Q75.0 419.0 82.0 419.0Z" fill="#0aa0e0"/>
<path d="M81.5 422.5Q88.0 423.0 90.0 426.0Q92.0 429.0 98.0 431.0Q104.0 433.0 112.0 434.0Q120.0 435.0 120.0 436.0Q120.0 437.0 97.5 437.0Q75.0 437.0 75.0 429.5Q75.0 422.0 81.5 422.5Z" fill="#0a82e0"/>
<path d="M86.0 430.0 L96.0 433.0 L110.0 435.0 L110.0 437.0 L88.0 437.0Z" fill="#1050e0"/>
<path d="M75.0 418.0 L86.0 418.0 L86.0 421.0 L75.0 421.0Z" fill="#1050e0"/>
<path d="M98.0 414.2Q100.0 412.4 106.0 411.7Q112.0 411.0 119.0 410.5Q126.0 410.0 130.0 408.5Q134.0 407.0 136.0 407.5Q138.0 408.0 138.5 409.5Q139.0 411.0 137.5 412.3Q136.0 413.6 141.0 414.8Q146.0 416.0 153.0 415.2Q160.0 414.4 167.0 414.2Q174.0 414.0 181.0 414.2Q188.0 414.4 196.0 414.0Q204.0 413.6 212.0 412.3Q220.0 411.0 226.0 410.0Q232.0 409.0 238.5 409.0Q245.0 409.0 245.0 414.5Q245.0 420.0 239.5 418.5Q234.0 417.0 229.0 418.0Q224.0 419.0 222.0 421.0Q220.0 423.0 218.0 424.3Q216.0 425.6 210.0 426.3Q204.0 427.0 198.0 426.7Q192.0 426.4 183.5 426.7Q175.0 427.0 175.0 429.7Q175.0 432.4 161.5 432.4Q148.0 432.4 146.0 433.7Q144.0 435.0 141.0 432.5Q138.0 430.0 132.0 430.5Q126.0 431.0 118.0 430.5Q110.0 430.0 105.0 429.5Q100.0 429.0 98.0 427.5Q96.0 426.0 98.0 424.0Q100.0 422.0 98.5 420.5Q97.0 419.0 96.5 417.5Q96.0 416.0 98.0 414.2Z" fill="#10dc82"/>
<path d="M164.0 418.0Q170.0 417.0 179.0 417.0Q188.0 417.0 198.0 417.5Q208.0 418.0 212.0 419.0Q216.0 420.0 212.0 421.0Q208.0 422.0 198.0 421.8Q188.0 421.6 179.0 422.0Q170.0 422.4 165.0 422.2Q160.0 422.0 159.0 420.5Q158.0 419.0 164.0 418.0Z" fill="#e6e6e6"/>
<path d="M227.5 419.5Q232.0 419.0 234.0 420.5Q236.0 422.0 235.0 424.5Q234.0 427.0 229.0 427.0Q224.0 427.0 222.0 425.5Q220.0 424.0 221.5 422.0Q223.0 420.0 227.5 419.5Z" fill="#e6e6e6"/>
<path d="M226.0 420.4 L230.4 420.4 L230.4 421.6 L226.0 421.6Z" fill="#10bce0"/>
<path d="M104.0 425.2Q110.0 424.4 115.0 423.2Q120.0 422.0 126.0 420.0Q132.0 418.0 138.0 417.5Q144.0 417.0 149.0 417.5Q154.0 418.0 155.0 420.0Q156.0 422.0 153.0 424.0Q150.0 426.0 148.0 427.5Q146.0 429.0 138.0 429.0Q130.0 429.0 123.0 428.7Q116.0 428.4 109.0 428.4Q102.0 428.4 100.0 427.2Q98.0 426.0 104.0 425.2Z" fill="#3cd214"/>
<path d="M113.0 424.8Q120.0 423.6 126.0 422.3Q132.0 421.0 137.0 420.5Q142.0 420.0 145.0 420.8Q148.0 421.6 147.0 423.3Q146.0 425.0 140.0 426.0Q134.0 427.0 127.0 427.5Q120.0 428.0 114.0 428.0Q108.0 428.0 107.0 427.0Q106.0 426.0 113.0 424.8Z" fill="#aadc14"/>
<path d="M105.5 414.0Q110.0 413.0 117.0 413.0Q124.0 413.0 127.0 413.7Q130.0 414.4 125.0 415.2Q120.0 416.0 114.0 416.5Q108.0 417.0 105.0 417.0Q102.0 417.0 101.5 416.0Q101.0 415.0 105.5 414.0Z" fill="#e6e6e6"/>
<path d="M104.0 414.4 L116.0 414.0 L116.0 416.0 L105.0 416.4Z" fill="#10bce0"/>
<path d="M100.0 418.0 L110.0 417.6 L110.0 419.6 L101.0 420.0Z" fill="#aadc14"/>
<path d="M139.0 406.0 L143.0 405.6 L146.0 410.0 L143.0 411.0 L140.0 408.4Z" fill="#10bce0"/>
<path d="M130.0 430.0 L140.0 429.0 L144.0 432.0 L142.0 436.0 L132.0 436.4Z" fill="#e6e6e6"/>
<path d="M166.0 424.4 L170.0 423.6 L171.0 427.0 L167.0 427.6Z" fill="#e6e6e6"/>
<path d="M244.0 392.0Q246.0 391.0 249.0 389.0Q252.0 387.0 255.0 386.5Q258.0 386.0 260.0 387.5Q262.0 389.0 265.0 389.5Q268.0 390.0 269.5 391.5Q271.0 393.0 270.5 395.0Q270.0 397.0 267.0 397.5Q264.0 398.0 262.0 399.0Q260.0 400.0 256.0 400.0Q252.0 400.0 249.0 399.0Q246.0 398.0 244.0 397.0Q242.0 396.0 242.0 394.5Q242.0 393.0 244.0 392.0Z" fill="#10bce0"/>
<path d="M251.0 383.0 L258.0 383.6 L258.4 385.6 L251.6 385.6Z" fill="#10bce0"/>
<path d="M235.0 386.0 L245.0 386.0 L247.0 388.0 L235.0 389.0Z" fill="#10dc82"/>
<path d="M243.5 409.5Q252.0 409.0 258.0 408.5Q264.0 408.0 267.0 405.5Q270.0 403.0 271.5 401.5Q273.0 400.0 276.5 400.5Q280.0 401.0 283.0 400.0Q286.0 399.0 291.0 399.5Q296.0 400.0 298.0 402.0Q300.0 404.0 299.0 406.5Q298.0 409.0 295.0 409.5Q292.0 410.0 289.0 412.0Q286.0 414.0 283.0 413.0Q280.0 412.0 276.0 413.0Q272.0 414.0 272.0 415.5Q272.0 417.0 266.0 417.0Q260.0 417.0 256.0 418.5Q252.0 420.0 243.5 420.5Q235.0 421.0 235.0 415.5Q235.0 410.0 243.5 409.5Z" fill="#10dc82"/>
<path d="M235.0 417.0 L250.0 416.0 L257.0 418.0 L252.0 420.4 L235.0 421.0Z" fill="#3cd214"/>
<path d="M270.0 408.0 L276.0 407.0 L277.0 410.0 L271.0 411.0Z" fill="#3cd214"/>
<path d="M285.5 401.5Q288.0 400.0 292.0 400.5Q296.0 401.0 297.0 403.5Q298.0 406.0 295.5 407.8Q293.0 409.6 289.5 409.8Q286.0 410.0 284.5 406.5Q283.0 403.0 285.5 401.5Z" fill="#3cd214"/>
<path d="M287.0 401.0 L291.0 400.0 L292.4 406.0 L290.0 411.0 L287.6 408.0Z" fill="#aadc14"/>
<path d="M289.0 388.5Q292.0 388.0 296.0 388.5Q300.0 389.0 302.5 391.0Q305.0 393.0 304.5 396.5Q304.0 400.0 300.0 400.5Q296.0 401.0 293.0 400.0Q290.0 399.0 288.5 396.5Q287.0 394.0 286.5 391.5Q286.0 389.0 289.0 388.5Z" fill="#10bce0"/>
<path d="M294.5 392.0Q298.0 391.0 300.5 392.5Q303.0 394.0 302.5 396.5Q302.0 399.0 299.0 399.5Q296.0 400.0 293.8 399.0Q291.6 398.0 291.3 395.5Q291.0 393.0 294.5 392.0Z" fill="#0a82e0"/>
<path d="M273.0 387.5Q275.0 387.0 277.0 390.0Q279.0 393.0 281.0 395.5Q283.0 398.0 281.0 398.0Q279.0 398.0 276.5 396.0Q274.0 394.0 272.5 391.0Q271.0 388.0 273.0 387.5Z" fill="#10dc82"/>
<path d="M302.0 368.5Q306.0 368.0 308.0 369.0Q310.0 370.0 309.0 373.0Q308.0 376.0 310.0 379.0Q312.0 382.0 310.5 384.5Q309.0 387.0 306.5 388.0Q304.0 389.0 302.0 386.5Q300.0 384.0 298.5 381.0Q297.0 378.0 296.5 375.0Q296.0 372.0 297.0 370.5Q298.0 369.0 302.0 368.5Z" fill="#10dc82"/>
<path d="M300.0 380.0 L305.0 382.0 L308.0 386.0 L304.0 387.0 L300.0 384.0Z" fill="#3cd214"/>
<path d="M313.0 361.5Q316.0 359.0 320.0 359.5Q324.0 360.0 330.0 359.8Q336.0 359.6 344.0 359.8Q352.0 360.0 360.0 360.5Q368.0 361.0 374.0 362.5Q380.0 364.0 384.0 366.0Q388.0 368.0 384.0 369.0Q380.0 370.0 374.0 369.5Q368.0 369.0 360.0 368.0Q352.0 367.0 344.0 366.5Q336.0 366.0 330.0 366.0Q324.0 366.0 320.0 367.5Q316.0 369.0 313.5 369.5Q311.0 370.0 310.5 367.0Q310.0 364.0 313.0 361.5Z" fill="#10bce0"/>
<path d="M315.0 363.0Q318.0 361.0 322.0 361.5Q326.0 362.0 333.0 361.8Q340.0 361.6 350.0 362.0Q360.0 362.4 368.0 363.7Q376.0 365.0 378.0 366.5Q380.0 368.0 374.0 367.8Q368.0 367.6 360.0 366.6Q352.0 365.6 343.0 365.0Q334.0 364.4 329.0 364.7Q324.0 365.0 320.5 366.5Q317.0 368.0 314.5 366.5Q312.0 365.0 315.0 363.0Z" fill="#0aa0e0"/>
<path d="M307.0 369.0Q310.0 368.0 315.0 367.5Q320.0 367.0 328.0 367.0Q336.0 367.0 344.0 367.3Q352.0 367.6 360.0 368.6Q368.0 369.6 376.0 369.8Q384.0 370.0 394.5 369.8Q405.0 369.6 405.0 375.8Q405.0 382.0 398.5 381.0Q392.0 380.0 386.0 379.0Q380.0 378.0 374.0 377.5Q368.0 377.0 360.0 376.7Q352.0 376.4 344.0 376.2Q336.0 376.0 330.0 375.8Q324.0 375.6 319.0 375.8Q314.0 376.0 310.0 375.5Q306.0 375.0 305.0 372.5Q304.0 370.0 307.0 369.0Z" fill="#10dc82"/>
<path d="M311.5 369.7Q316.0 368.4 323.0 368.2Q330.0 368.0 339.0 368.2Q348.0 368.4 358.0 369.4Q368.0 370.4 376.0 370.7Q384.0 371.0 394.5 371.0Q405.0 371.0 405.0 375.0Q405.0 379.0 396.5 378.3Q388.0 377.6 380.0 376.8Q372.0 376.0 362.0 375.5Q352.0 375.0 343.0 374.7Q334.0 374.4 327.0 374.2Q320.0 374.0 315.0 374.0Q310.0 374.0 308.5 372.5Q307.0 371.0 311.5 369.7Z" fill="#3cd214"/>
<path d="M314.5 370.6Q320.0 369.6 328.0 369.4Q336.0 369.2 344.0 369.6Q352.0 370.0 360.0 370.8Q368.0 371.6 376.0 372.0Q384.0 372.4 394.5 372.4Q405.0 372.4 405.0 374.7Q405.0 377.0 394.5 376.5Q384.0 376.0 376.0 375.5Q368.0 375.0 360.0 374.3Q352.0 373.6 343.0 373.3Q334.0 373.0 327.0 373.0Q320.0 373.0 315.5 373.0Q311.0 373.0 310.0 372.3Q309.0 371.6 314.5 370.6Z" fill="#aadc14"/>
<path d="M326.5 381.5Q330.0 380.0 337.0 379.2Q344.0 378.4 352.0 378.7Q360.0 379.0 366.0 380.0Q372.0 381.0 376.0 383.0Q380.0 385.0 379.5 387.0Q379.0 389.0 376.0 391.0Q373.0 393.0 370.5 394.3Q368.0 395.6 363.0 395.3Q358.0 395.0 353.5 394.0Q349.0 393.0 347.5 391.0Q346.0 389.0 341.0 388.5Q336.0 388.0 331.0 387.0Q326.0 386.0 324.5 384.5Q323.0 383.0 326.5 381.5Z" fill="#10bce0"/>
<path d="M351.0 390.0 L360.0 388.0 L368.0 389.0 L366.0 392.0 L356.0 393.0Z" fill="#e6e6e6"/>
<path d="M302.0 401.5Q306.0 400.0 313.0 398.5Q320.0 397.0 325.0 396.0Q330.0 395.0 337.0 394.5Q344.0 394.0 348.0 395.2Q352.0 396.4 358.0 397.2Q364.0 398.0 372.0 397.5Q380.0 397.0 384.0 396.0Q388.0 395.0 390.0 392.5Q392.0 390.0 395.0 389.0Q398.0 388.0 401.5 388.5Q405.0 389.0 405.0 399.0Q405.0 409.0 396.5 408.0Q388.0 407.0 380.0 406.7Q372.0 406.4 366.0 406.7Q360.0 407.0 354.0 406.5Q348.0 406.0 342.0 405.0Q336.0 404.0 330.0 403.8Q324.0 403.6 319.0 404.8Q314.0 406.0 309.0 407.0Q304.0 408.0 301.5 407.5Q299.0 407.0 298.5 405.0Q298.0 403.0 302.0 401.5Z" fill="#10dc82"/>
<path d="M317.0 400.5Q324.0 399.0 330.0 398.0Q336.0 397.0 342.0 397.0Q348.0 397.0 354.0 398.5Q360.0 400.0 368.0 399.5Q376.0 399.0 384.0 398.5Q392.0 398.0 398.5 397.8Q405.0 397.6 405.0 401.0Q405.0 404.4 398.5 404.2Q392.0 404.0 384.0 404.2Q376.0 404.4 368.0 405.0Q360.0 405.6 354.0 404.8Q348.0 404.0 342.0 403.0Q336.0 402.0 330.0 402.2Q324.0 402.4 319.0 403.2Q314.0 404.0 312.0 403.0Q310.0 402.0 317.0 400.5Z" fill="#3cd214"/>
<path d="M345.0 414.0Q348.0 412.0 353.0 411.0Q358.0 410.0 363.0 409.5Q368.0 409.0 367.0 411.0Q366.0 413.0 369.0 414.0Q372.0 415.0 378.0 416.0Q384.0 417.0 394.5 416.5Q405.0 416.0 405.0 421.5Q405.0 427.0 396.5 428.0Q388.0 429.0 382.0 429.5Q376.0 430.0 370.0 430.5Q364.0 431.0 358.0 430.5Q352.0 430.0 349.0 428.5Q346.0 427.0 345.0 424.0Q344.0 421.0 343.0 418.5Q342.0 416.0 345.0 414.0Z" fill="#10bce0"/>
<path d="M354.5 418.0Q360.0 417.0 366.0 417.5Q372.0 418.0 380.0 418.5Q388.0 419.0 396.5 419.0Q405.0 419.0 405.0 421.5Q405.0 424.0 396.5 424.8Q388.0 425.6 380.0 425.3Q372.0 425.0 366.0 424.0Q360.0 423.0 355.0 422.5Q350.0 422.0 349.5 420.5Q349.0 419.0 354.5 418.0Z" fill="#0aa0e0"/>
<path d="M354.0 414.4 L362.0 413.6 L363.0 416.0 L355.0 416.6Z" fill="#e6e6e6"/>
<path d="M328.0 414.0 L333.0 413.0 L335.0 416.0 L332.0 419.0 L328.0 418.0Z" fill="#10dc82"/>
<path d="M329.6 415.0 L332.4 414.6 L333.0 417.0 L330.0 417.4Z" fill="#e6e6e6"/>
<path d="M304.0 420.0 L310.0 419.0 L311.0 422.0 L305.0 422.4Z" fill="#10bce0"/>
<path d="M310.0 423.0 L316.0 422.4 L328.0 425.0 L328.0 426.4 L310.0 426.4Z" fill="#10bce0"/>
<path d="M345.0 430.0 L352.0 432.0 L360.0 434.0 L356.0 436.0 L346.0 435.0Z" fill="#10dc82"/>
<path d="M331.0 348.0Q334.0 345.0 339.0 345.0Q344.0 345.0 346.0 348.5Q348.0 352.0 344.0 352.5Q340.0 353.0 335.0 353.0Q330.0 353.0 329.0 352.0Q328.0 351.0 331.0 348.0Z" fill="#10bce0"/>
<path d="M395.0 358.5Q398.0 359.0 401.5 360.0Q405.0 361.0 405.0 362.5Q405.0 364.0 400.0 363.2Q395.0 362.4 393.3 361.2Q391.6 360.0 391.8 359.0Q392.0 358.0 395.0 358.5Z" fill="#10dc82"/>
<path d="M314.0 358.0 L319.0 357.0 L322.0 361.0 L317.0 363.0 L313.0 361.0Z" fill="#10bce0"/>
<path d="M403.5 368.1Q412.0 366.8 419.0 365.9Q426.0 365.0 433.0 366.0Q440.0 367.0 448.0 367.5Q456.0 368.0 462.0 368.2Q468.0 368.4 472.0 369.2Q476.0 370.0 472.0 370.8Q468.0 371.6 462.0 372.3Q456.0 373.0 448.0 374.0Q440.0 375.0 435.0 376.0Q430.0 377.0 425.0 378.5Q420.0 380.0 415.0 380.5Q410.0 381.0 402.5 381.5Q395.0 382.0 395.0 375.7Q395.0 369.4 403.5 368.1Z" fill="#10dc82"/>
<path d="M403.5 369.7Q412.0 368.4 419.0 367.4Q426.0 366.4 433.0 367.4Q440.0 368.4 448.0 369.0Q456.0 369.6 461.0 369.8Q466.0 370.0 461.0 370.8Q456.0 371.6 448.0 372.3Q440.0 373.0 433.0 374.0Q426.0 375.0 419.0 376.0Q412.0 377.0 403.5 377.5Q395.0 378.0 395.0 374.5Q395.0 371.0 403.5 369.7Z" fill="#3cd214"/>
<path d="M403.5 371.0Q412.0 369.6 418.0 368.6Q424.0 367.6 430.0 368.3Q436.0 369.0 441.0 369.7Q446.0 370.4 441.0 371.2Q436.0 372.0 430.0 372.8Q424.0 373.6 418.0 374.3Q412.0 375.0 403.5 375.5Q395.0 376.0 395.0 374.2Q395.0 372.4 403.5 371.0Z" fill="#aadc14"/>
<path d="M408.0 363.0 L420.0 361.6 L422.0 363.6 L410.0 365.0Z" fill="#10dc82"/>
<path d="M436.0 365.0 L439.0 364.4 L440.0 367.0 L437.0 367.6Z" fill="#10dc82"/>
<path d="M460.5 376.3Q464.0 375.6 465.5 376.8Q467.0 378.0 465.5 380.5Q464.0 383.0 462.0 384.3Q460.0 385.6 458.5 384.3Q457.0 383.0 456.5 381.3Q456.0 379.6 456.5 378.3Q457.0 377.0 460.5 376.3Z" fill="#10dc82"/>
<path d="M467.0 356.0 L470.0 355.0 L471.0 359.0 L468.0 362.0 L466.0 360.0Z" fill="#10bce0"/>
<path d="M472.4 357.0 L475.6 357.0 L476.0 360.0 L473.0 360.4Z" fill="#0aa0e0"/>
<path d="M481.5 356.2Q484.0 356.4 485.0 358.2Q486.0 360.0 485.5 362.2Q485.0 364.4 483.0 364.2Q481.0 364.0 480.3 362.0Q479.6 360.0 479.3 358.0Q479.0 356.0 481.5 356.2Z" fill="#10bce0"/>
<path d="M445.0 360.0 L451.0 359.6 L452.0 363.0 L446.0 363.6Z" fill="#10dc82"/>
<path d="M453.6 363.6 L457.0 363.2 L458.0 367.0 L454.4 367.6Z" fill="#0aa0e0"/>
<path d="M464.0 363.0 L469.0 363.0 L470.0 366.0 L465.0 366.0Z" fill="#10dc82"/>
<path d="M475.0 362.0 L479.0 362.0 L479.6 365.0 L475.6 365.2Z" fill="#10dc82"/>
<path d="M506.0 367.0 L512.0 367.0 L512.0 369.0 L506.0 369.0Z" fill="#10bce0"/>
<path d="M484.0 369.6 L488.0 369.6 L488.0 371.0 L484.0 371.0Z" fill="#10dc82"/>
<path d="M491.0 373.3Q496.0 373.0 501.5 373.3Q507.0 373.6 506.5 374.8Q506.0 376.0 501.0 376.2Q496.0 376.4 491.2 376.2Q486.4 376.0 486.2 374.8Q486.0 373.6 491.0 373.3Z" fill="#10bce0"/>
<path d="M401.5 390.0Q408.0 391.0 414.0 391.5Q420.0 392.0 425.0 391.8Q430.0 391.6 432.0 392.8Q434.0 394.0 434.5 397.0Q435.0 400.0 439.5 401.2Q444.0 402.4 450.0 403.4Q456.0 404.4 460.0 405.2Q464.0 406.0 464.0 407.0Q464.0 408.0 458.0 408.0Q452.0 408.0 446.0 407.8Q440.0 407.6 435.0 407.8Q430.0 408.0 425.0 408.5Q420.0 409.0 416.0 409.5Q412.0 410.0 408.0 411.0Q404.0 412.0 399.5 412.0Q395.0 412.0 395.0 400.5Q395.0 389.0 401.5 390.0Z" fill="#10dc82"/>
<path d="M401.5 397.0Q408.0 396.4 410.0 396.7Q412.0 397.0 415.0 398.5Q418.0 400.0 423.0 401.2Q428.0 402.4 424.0 403.7Q420.0 405.0 416.0 405.5Q412.0 406.0 410.0 407.5Q408.0 409.0 406.0 408.5Q404.0 408.0 399.5 406.2Q395.0 404.4 395.0 401.0Q395.0 397.6 401.5 397.0Z" fill="#3cd214"/>
<path d="M424.0 395.0 L430.0 394.0 L433.0 397.0 L430.0 400.0 L425.0 399.0Z" fill="#3cd214"/>
<path d="M420.0 397.0 L423.0 396.6 L424.0 399.6 L421.0 400.0Z" fill="#e6e6e6"/>
<path d="M400.5 416.5Q406.0 416.0 409.0 415.0Q412.0 414.0 416.0 413.2Q420.0 412.4 426.0 412.7Q432.0 413.0 432.5 414.0Q433.0 415.0 428.5 415.5Q424.0 416.0 422.0 417.5Q420.0 419.0 416.0 420.0Q412.0 421.0 409.0 422.3Q406.0 423.6 400.5 423.8Q395.0 424.0 395.0 420.5Q395.0 417.0 400.5 416.5Z" fill="#10bce0"/>
<path d="M401.5 418.3Q408.0 417.6 412.0 416.8Q416.0 416.0 418.0 416.5Q420.0 417.0 416.0 418.5Q412.0 420.0 403.5 421.2Q395.0 422.4 395.0 420.7Q395.0 419.0 401.5 418.3Z" fill="#0aa0e0"/>
<path d="M439.0 414.0 L446.0 413.0 L454.0 414.0 L453.0 417.0 L440.0 417.0Z" fill="#10bce0"/>
<path d="M465.0 412.4 L469.0 412.0 L470.4 414.4 L467.0 415.6Z" fill="#10bce0"/>
<path d="M474.0 412.8Q477.0 411.6 481.0 411.8Q485.0 412.0 485.5 413.5Q486.0 415.0 484.0 416.5Q482.0 418.0 478.5 418.5Q475.0 419.0 473.0 418.0Q471.0 417.0 471.0 415.5Q471.0 414.0 474.0 412.8Z" fill="#10dc82"/>
<path d="M457.0 416.0 L462.0 416.0 L462.4 418.4 L457.6 418.4Z" fill="#10dc82"/>
<path d="M437.0 422.2Q440.0 422.0 444.0 422.5Q448.0 423.0 451.5 424.3Q455.0 425.6 451.5 425.8Q448.0 426.0 444.0 425.2Q440.0 424.4 437.0 424.2Q434.0 424.0 434.0 423.2Q434.0 422.4 437.0 422.2Z" fill="#10dc82"/>
<path d="M480.0 398.8Q484.0 398.0 490.0 397.8Q496.0 397.6 502.0 397.8Q508.0 398.0 512.0 398.8Q516.0 399.6 512.0 400.6Q508.0 401.6 502.0 402.0Q496.0 402.4 490.0 402.2Q484.0 402.0 480.5 401.5Q477.0 401.0 476.5 400.3Q476.0 399.6 480.0 398.8Z" fill="#10bce0"/>
<path d="M502.0 404.4 L512.0 403.6 L514.0 408.0 L506.0 408.4 L502.4 407.0Z" fill="#10bce0"/>
<path d="M499.0 412.0Q504.0 411.6 509.0 412.0Q514.0 412.4 514.0 413.4Q514.0 414.4 509.0 414.7Q504.0 415.0 499.2 414.7Q494.4 414.4 494.2 413.4Q494.0 412.4 499.0 412.0Z" fill="#10bce0"/>
<path d="M516.0 410.0 L524.0 409.0 L530.0 410.0 L528.0 413.0 L518.0 413.0Z" fill="#10bce0"/>
<path d="M527.0 362.5Q530.0 361.0 536.0 361.5Q542.0 362.0 546.0 363.5Q550.0 365.0 556.0 363.7Q562.0 362.4 570.0 362.7Q578.0 363.0 586.0 364.5Q594.0 366.0 602.0 368.0Q610.0 370.0 616.0 371.5Q622.0 373.0 628.0 374.5Q634.0 376.0 641.0 377.0Q648.0 378.0 649.0 379.0Q650.0 380.0 644.0 380.5Q638.0 381.0 633.0 381.3Q628.0 381.6 623.0 380.3Q618.0 379.0 612.0 378.5Q606.0 378.0 598.0 377.0Q590.0 376.0 583.0 374.8Q576.0 373.6 569.0 373.0Q562.0 372.4 556.0 372.0Q550.0 371.6 547.0 370.8Q544.0 370.0 540.0 369.0Q536.0 368.0 532.0 367.5Q528.0 367.0 526.0 365.5Q524.0 364.0 527.0 362.5Z" fill="#10bce0"/>
<path d="M554.0 365.0Q562.0 364.0 570.0 364.2Q578.0 364.4 586.0 366.0Q594.0 367.6 602.0 369.3Q610.0 371.0 612.5 373.0Q615.0 375.0 612.5 376.3Q610.0 377.6 602.0 376.3Q594.0 375.0 586.0 373.7Q578.0 372.4 570.0 371.7Q562.0 371.0 556.0 370.5Q550.0 370.0 548.5 369.0Q547.0 368.0 546.5 367.0Q546.0 366.0 554.0 365.0Z" fill="#0aa0e0"/>
<path d="M580.0 367.7Q590.0 368.4 598.0 370.0Q606.0 371.6 609.5 373.3Q613.0 375.0 609.5 375.7Q606.0 376.4 598.0 375.0Q590.0 373.6 582.0 372.3Q574.0 371.0 572.0 369.0Q570.0 367.0 580.0 367.7Z" fill="#0a82e0"/>
<path d="M540.0 362.0 L546.0 361.0 L548.0 365.0 L543.0 368.0 L540.0 366.0Z" fill="#0a82e0"/>
<path d="M521.5 369.0Q526.0 368.0 531.0 368.5Q536.0 369.0 540.0 370.0Q544.0 371.0 548.0 372.0Q552.0 373.0 557.0 373.3Q562.0 373.6 568.0 374.3Q574.0 375.0 582.0 376.5Q590.0 378.0 589.5 379.2Q589.0 380.4 583.5 381.0Q578.0 381.6 575.0 383.3Q572.0 385.0 569.0 386.0Q566.0 387.0 563.0 388.0Q560.0 389.0 559.0 391.0Q558.0 393.0 556.5 395.5Q555.0 398.0 554.0 401.0Q553.0 404.0 551.0 406.5Q549.0 409.0 545.5 408.5Q542.0 408.0 540.0 406.0Q538.0 404.0 539.0 401.0Q540.0 398.0 542.5 396.5Q545.0 395.0 547.0 392.5Q549.0 390.0 549.5 387.5Q550.0 385.0 548.5 382.5Q547.0 380.0 545.0 377.5Q543.0 375.0 539.5 373.3Q536.0 371.6 531.0 371.6Q526.0 371.6 522.0 371.6Q518.0 371.6 517.5 370.8Q517.0 370.0 521.5 369.0Z" fill="#10dc82"/>
<path d="M549.0 373.5Q554.0 374.0 559.0 374.8Q564.0 375.6 569.0 376.8Q574.0 378.0 572.0 380.0Q570.0 382.0 566.0 383.5Q562.0 385.0 558.5 386.5Q555.0 388.0 554.0 390.5Q553.0 393.0 551.5 396.5Q550.0 400.0 548.0 402.5Q546.0 405.0 544.0 404.3Q542.0 403.6 542.5 400.8Q543.0 398.0 545.5 395.5Q548.0 393.0 549.5 390.0Q551.0 387.0 550.0 383.5Q549.0 380.0 546.5 376.5Q544.0 373.0 549.0 373.5Z" fill="#3cd214"/>
<path d="M555.0 375.5Q560.0 376.0 564.0 377.5Q568.0 379.0 566.0 381.0Q564.0 383.0 560.5 383.5Q557.0 384.0 555.0 382.0Q553.0 380.0 551.5 377.5Q550.0 375.0 555.0 375.5Z" fill="#aadc14"/>
<path d="M542.0 400.0 L547.0 398.0 L548.0 402.4 L544.0 405.0Z" fill="#aadc14"/>
<path d="M531.0 379.0Q533.0 378.0 535.5 380.5Q538.0 383.0 539.0 386.0Q540.0 389.0 538.0 388.5Q536.0 388.0 533.5 386.0Q531.0 384.0 530.0 382.0Q529.0 380.0 531.0 379.0Z" fill="#10dc82"/>
<path d="M521.0 380.0 L523.6 380.0 L523.6 383.0 L521.0 383.0Z" fill="#10dc82"/>
<path d="M546.0 390.0 L550.0 389.6 L550.4 393.0 L546.8 393.6Z" fill="#e6e6e6"/>
<path d="M529.0 388.5Q532.0 388.0 536.0 389.5Q540.0 391.0 541.5 393.5Q543.0 396.0 540.5 397.5Q538.0 399.0 534.0 400.0Q530.0 401.0 528.5 398.5Q527.0 396.0 526.5 392.5Q526.0 389.0 529.0 388.5Z" fill="#10bce0"/>
<path d="M529.0 391.0 L536.0 391.0 L539.0 395.6 L532.0 398.0Z" fill="#0aa0e0"/>
<path d="M553.0 403.0 L558.0 402.4 L561.0 407.0 L556.0 409.0 L552.4 406.4Z" fill="#0aa0e0"/>
<path d="M543.0 410.5Q548.0 410.0 550.5 411.5Q553.0 413.0 556.0 414.5Q559.0 416.0 554.5 416.5Q550.0 417.0 545.0 416.7Q540.0 416.4 538.5 415.2Q537.0 414.0 537.5 412.5Q538.0 411.0 543.0 410.5Z" fill="#10bce0"/>
<path d="M540.0 412.4 L548.0 411.6 L551.0 415.0 L542.0 415.6Z" fill="#0aa0e0"/>
<path d="M564.5 408.5Q568.0 407.0 573.0 406.7Q578.0 406.4 581.0 407.2Q584.0 408.0 583.5 410.0Q583.0 412.0 580.5 414.0Q578.0 416.0 574.0 416.0Q570.0 416.0 566.0 414.8Q562.0 413.6 561.5 411.8Q561.0 410.0 564.5 408.5Z" fill="#10dc82"/>
<path d="M568.0 410.0 L576.0 409.0 L578.0 413.0 L572.0 415.0Z" fill="#3cd214"/>
<path d="M505.0 399.0 L516.0 398.0 L517.0 401.0 L505.0 402.0Z" fill="#10bce0"/>
<path d="M505.0 404.0 L514.0 404.0 L514.0 408.0 L505.0 408.0Z" fill="#10bce0"/>
<path d="M515.0 410.0 L526.0 409.0 L529.0 411.0 L522.0 413.6 L516.0 413.0Z" fill="#10bce0"/>
<path d="M505.0 411.0 L513.0 411.0 L513.6 414.4 L505.0 414.4Z" fill="#10bce0"/>
<path d="M577.5 399.0Q580.0 397.0 583.0 398.5Q586.0 400.0 587.5 401.5Q589.0 403.0 585.5 404.0Q582.0 405.0 579.0 404.7Q576.0 404.4 575.5 402.7Q575.0 401.0 577.5 399.0Z" fill="#10bce0"/>
<path d="M557.0 393.0 L560.0 392.6 L560.4 395.6 L557.4 396.0Z" fill="#10dc82"/>
<path d="M601.0 385.0 L608.0 384.4 L610.0 387.0 L603.0 388.0Z" fill="#10dc82"/>
<path d="M610.0 385.0 L615.0 382.0 L620.0 387.0 L612.0 387.6Z" fill="#10dc82"/>
<path d="M613.0 390.0 L622.0 389.0 L629.0 391.0 L626.0 393.6 L616.0 393.0Z" fill="#10bce0"/>
<path d="M602.0 381.0 L606.0 380.6 L606.4 382.4 L602.4 382.6Z" fill="#10bce0"/>
<path d="M619.0 381.0 L625.0 380.6 L625.6 382.4 L619.6 383.0Z" fill="#10dc82"/>
<path d="M643.0 388.5Q648.0 387.0 653.0 386.0Q658.0 385.0 660.0 383.0Q662.0 381.0 668.5 381.5Q675.0 382.0 675.0 392.2Q675.0 402.4 666.5 402.7Q658.0 403.0 653.0 402.7Q648.0 402.4 643.0 402.4Q638.0 402.4 635.2 402.0Q632.4 401.6 636.2 400.8Q640.0 400.0 644.0 399.5Q648.0 399.0 647.0 397.0Q646.0 395.0 643.0 394.0Q640.0 393.0 639.0 391.5Q638.0 390.0 643.0 388.5Z" fill="#10bce0"/>
<path d="M606.5 410.0Q610.0 409.0 615.0 408.5Q620.0 408.0 625.0 408.5Q630.0 409.0 631.5 410.5Q633.0 412.0 618.0 412.0Q603.0 412.0 603.0 411.5Q603.0 411.0 606.5 410.0Z" fill="#10bce0"/>
<path d="M616.0 362.0Q619.0 361.0 621.5 359.0Q624.0 357.0 627.0 357.5Q630.0 358.0 634.0 358.0Q638.0 358.0 640.0 359.5Q642.0 361.0 638.0 362.0Q634.0 363.0 630.0 363.7Q626.0 364.4 622.0 364.7Q618.0 365.0 615.5 364.0Q613.0 363.0 616.0 362.0Z" fill="#10dc82"/>
<path d="M622.0 362.0 L628.0 360.0 L636.0 360.0 L632.0 362.4 L625.0 363.6Z" fill="#3cd214"/>
<path d="M615.0 345.0 L619.0 351.0 L622.0 356.0 L619.0 357.0 L616.0 353.0Z" fill="#10dc82"/>
<path d="M606.0 358.0 L612.0 357.6 L612.4 360.0 L606.4 360.4Z" fill="#10bce0"/>
<path d="M598.0 353.0 L603.0 353.0 L603.4 355.0 L598.4 355.0Z" fill="#10bce0"/>
<path d="M598.0 345.0 L604.0 345.0 L603.6 351.2 L598.4 351.2Z" fill="#10dc82"/>
<path d="M621.3 358.8Q627.0 359.2 632.2 357.9Q637.5 356.6 641.9 355.7Q646.2 354.9 650.6 355.7Q655.0 356.6 657.6 358.4Q660.2 360.1 663.3 361.9Q666.4 363.6 668.6 364.9Q670.7 366.2 674.2 367.1Q677.7 368.0 680.4 368.9Q683.0 369.7 684.7 371.5Q686.5 373.2 690.0 373.7Q693.5 374.1 697.9 375.9Q702.2 377.6 703.1 379.4Q704.0 381.1 699.6 381.6Q695.2 382.0 690.9 381.6Q686.5 381.1 682.1 380.9Q677.7 380.6 674.2 380.0Q670.7 379.4 666.4 378.1Q662.0 376.7 657.6 375.0Q653.2 373.2 649.7 372.4Q646.2 371.5 642.7 370.2Q639.2 368.9 638.8 367.6Q638.4 366.2 641.4 365.4Q644.5 364.5 646.2 362.7Q648.0 361.0 645.4 360.1Q642.7 359.2 639.2 360.6Q635.7 361.9 631.4 363.2Q627.0 364.5 621.3 364.5Q615.6 364.5 615.6 361.4Q615.6 358.4 621.3 358.8Z" fill="#10dc82"/>
<path d="M650.6 357.1Q655.0 357.5 658.1 360.1Q661.1 362.7 665.1 364.5Q669.0 366.2 670.7 368.4Q672.5 370.6 675.1 372.8Q677.7 375.0 683.9 375.9Q690.0 376.7 695.2 378.1Q700.5 379.4 697.9 380.2Q695.2 381.1 690.0 380.7Q684.7 380.2 679.5 379.8Q674.2 379.4 669.9 377.6Q665.5 375.9 662.0 374.1Q658.5 372.4 657.6 370.2Q656.7 368.0 654.1 365.4Q651.5 362.7 648.9 359.7Q646.2 356.6 650.6 357.1Z" fill="#3cd214"/>
<path d="M661.1 364.5 L669.0 366.2 L671.6 370.6 L667.2 372.4 L662.0 369.7Z" fill="#aadc14"/>
<path d="M671.6 376.3Q676.0 377.6 683.0 377.6Q690.0 377.6 694.4 378.5Q698.7 379.4 694.4 380.2Q690.0 381.1 683.9 380.7Q677.7 380.2 673.8 379.4Q669.9 378.5 668.6 376.7Q667.2 375.0 671.6 376.3Z" fill="#aadc14"/>
<path d="M687.4 369.7 L693.5 368.9 L695.2 372.4 L690.0 374.1Z" fill="#aadc14"/>
<path d="M691.7 363.6 L697.0 362.7 L698.7 366.2 L694.4 368.9 L690.9 367.1Z" fill="#10dc82"/>
<path d="M675.6 368.0Q677.7 367.1 680.8 367.6Q683.9 368.0 684.3 371.1Q684.7 374.1 682.1 375.4Q679.5 376.7 677.3 375.9Q675.1 375.0 674.2 371.9Q673.4 368.9 675.6 368.0Z" fill="#0a82e0"/>
<path d="M677.7 371.1 L682.1 370.6 L682.6 374.1 L678.6 374.6Z" fill="#e6e6e6"/>
<path d="M621.3 371.1Q627.0 371.5 632.2 373.2Q637.5 375.0 642.7 376.3Q648.0 377.6 648.4 378.9Q648.9 380.2 643.2 380.7Q637.5 381.1 632.2 381.6Q627.0 382.0 621.3 381.6Q615.6 381.1 615.6 375.9Q615.6 370.6 621.3 371.1Z" fill="#10bce0"/>
<path d="M615.6 389.0 L627.0 389.0 L628.7 391.6 L623.5 393.4 L615.6 392.8Z" fill="#10bce0"/>
<path d="M641.0 389.0Q644.5 387.2 648.0 386.4Q651.5 385.5 656.7 384.6Q662.0 383.7 667.2 384.2Q672.5 384.6 673.4 386.8Q674.2 389.0 677.7 389.9Q681.2 390.7 680.4 392.1Q679.5 393.4 675.1 393.8Q670.7 394.2 668.6 396.0Q666.4 397.7 666.8 399.9Q667.2 402.1 661.1 402.4Q655.0 402.6 648.9 402.8Q642.7 403.0 637.5 402.6Q632.2 402.1 635.7 401.2Q639.2 400.4 643.6 399.9Q648.0 399.5 646.2 397.7Q644.5 396.0 641.4 395.1Q638.4 394.2 637.9 392.5Q637.5 390.7 641.0 389.0Z" fill="#10bce0"/>
<path d="M660.2 386.4 L667.2 385.8 L668.1 390.7 L662.0 391.6Z" fill="#0aa0e0"/>
<path d="M682.1 388.1 L685.6 387.6 L686.1 392.5 L682.6 392.8Z" fill="#10bce0"/>
<path d="M630.5 391.6 L634.9 391.6 L634.9 393.4 L630.5 393.4Z" fill="#10bce0"/>
<path d="M700.9 355.7Q704.0 354.9 709.2 355.3Q714.5 355.7 718.9 356.6Q723.2 357.5 721.9 358.8Q720.6 360.1 715.8 360.6Q711.0 361.0 706.6 361.4Q702.2 361.9 700.5 360.7Q698.7 359.6 698.3 358.1Q697.9 356.6 700.9 355.7Z" fill="#10bce0"/>
<path d="M702.2 356.6 L712.7 356.6 L718.0 358.4 L711.0 360.1 L703.1 360.1Z" fill="#0aa0e0"/>
<path d="M700.5 366.7Q704.0 364.5 706.6 365.4Q709.2 366.2 711.9 368.4Q714.5 370.6 714.9 372.8Q715.4 375.0 712.3 376.3Q709.2 377.6 705.7 376.3Q702.2 375.0 700.5 373.7Q698.7 372.4 697.9 370.6Q697.0 368.9 700.5 366.7Z" fill="#10bce0"/>
<path d="M701.4 368.9 L707.5 367.6 L711.9 372.4 L706.6 375.0Z" fill="#0aa0e0"/>
<path d="M693.5 362.7 L697.9 363.6 L697.0 368.0 L693.5 368.9Z" fill="#10dc82"/>
<path d="M712.7 367.1 L717.1 366.2 L719.7 370.6 L718.0 375.0 L714.5 373.2Z" fill="#10dc82"/>
<path d="M715.4 375.0Q718.0 374.1 721.5 375.9Q725.0 377.6 728.5 375.4Q732.0 373.2 739.4 372.4Q746.9 371.5 746.9 376.7Q746.9 382.0 740.3 382.4Q733.7 382.9 729.4 383.3Q725.0 383.7 721.5 382.9Q718.0 382.0 715.4 378.9Q712.7 375.9 715.4 375.0Z" fill="#10dc82"/>
<path d="M728.5 375.9Q732.0 374.1 739.4 373.2Q746.9 372.4 746.9 376.7Q746.9 381.1 739.4 381.6Q732.0 382.0 728.9 381.6Q725.9 381.1 725.4 379.4Q725.0 377.6 728.5 375.9Z" fill="#3cd214"/>
<path d="M729.4 375.9 L739.0 374.1 L746.9 380.2 L732.0 381.1Z" fill="#aadc14"/>
<path d="M717.5 344.1Q721.5 343.8 726.7 344.1Q732.0 344.4 739.4 344.6Q746.9 344.9 746.9 351.2Q746.9 357.5 741.2 356.2Q735.5 354.9 732.0 353.1Q728.5 351.4 725.0 350.1Q721.5 348.7 718.0 347.9Q714.5 347.0 714.0 345.7Q713.6 344.4 717.5 344.1Z" fill="#10dc82"/>
<path d="M737.2 353.1 L746.9 352.2 L746.9 356.6 L738.1 355.7Z" fill="#e6e6e6"/>
<path d="M699.6 346.1 L704.0 345.8 L704.3 348.4 L700.1 348.7Z" fill="#10dc82"/>
<path d="M699.6 341.4 L701.9 341.4 L701.9 343.1 L699.6 343.1Z" fill="#10dc82"/>
<path d="M708.4 345.2 L711.0 345.2 L711.0 347.3 L708.4 347.3Z" fill="#10dc82"/>
<path d="M675.1 381.6Q679.5 381.1 684.7 381.6Q690.0 382.0 696.1 381.6Q702.2 381.1 706.6 381.6Q711.0 382.0 714.5 383.7Q718.0 385.5 723.2 386.4Q728.5 387.2 737.7 384.6Q746.9 382.0 746.9 388.1Q746.9 394.2 739.4 394.9Q732.0 395.6 727.6 394.5Q723.2 393.4 719.3 392.5Q715.4 391.6 713.2 389.9Q711.0 388.1 706.6 387.2Q702.2 386.4 697.9 386.6Q693.5 386.9 688.2 386.4Q683.0 385.8 677.7 385.5Q672.5 385.1 671.6 383.6Q670.7 382.0 675.1 381.6Z" fill="#10bce0"/>
<path d="M703.1 382.4Q709.2 382.9 712.7 385.1Q716.2 387.2 720.6 388.6Q725.0 389.9 728.5 389.4Q732.0 389.0 732.0 391.2Q732.0 393.4 727.6 392.9Q723.2 392.5 719.3 391.2Q715.4 389.9 711.4 388.1Q707.5 386.4 703.1 385.8Q698.7 385.1 697.9 383.6Q697.0 382.0 703.1 382.4Z" fill="#0aa0e0"/>
<path d="M709.2 392.5 L711.9 392.5 L711.9 395.1 L709.2 395.1Z" fill="#10dc82"/>
<path d="M679.5 400.4Q683.0 399.5 688.2 399.3Q693.5 399.1 700.5 399.5Q707.5 399.8 714.5 400.1Q721.5 400.4 726.7 399.9Q732.0 399.5 739.4 398.6Q746.9 397.7 746.9 401.7Q746.9 405.6 739.4 406.5Q732.0 407.4 726.7 408.2Q721.5 409.1 716.2 409.5Q711.0 410.0 705.7 410.0Q700.5 410.0 697.0 410.9Q693.5 411.7 690.9 410.9Q688.2 410.0 687.4 407.8Q686.5 405.6 683.0 405.2Q679.5 404.7 677.7 403.0Q676.0 401.2 679.5 400.4Z" fill="#10dc82"/>
<path d="M693.0 401.2Q697.0 400.4 704.0 400.6Q711.0 400.9 718.0 401.2Q725.0 401.6 727.6 402.7Q730.2 403.9 727.6 405.6Q725.0 407.4 718.0 408.0Q711.0 408.6 704.9 408.8Q698.7 409.1 695.2 408.2Q691.7 407.4 690.9 405.6Q690.0 403.9 689.5 403.0Q689.1 402.1 693.0 401.2Z" fill="#3cd214"/>
<path d="M695.7 402.1Q698.7 401.2 704.9 401.7Q711.0 402.1 716.7 402.7Q722.4 403.3 721.9 404.7Q721.5 406.1 716.2 406.7Q711.0 407.4 704.9 407.4Q698.7 407.4 696.1 406.5Q693.5 405.6 693.0 404.3Q692.6 403.0 695.7 402.1Z" fill="#aadc14"/>
<path d="M697.9 411.9Q702.2 411.7 706.6 412.6Q711.0 413.5 718.0 414.4Q725.0 415.2 735.9 415.2Q746.9 415.2 746.9 418.7Q746.9 422.2 739.4 421.8Q732.0 421.4 728.5 420.9Q725.0 420.5 721.5 421.4Q718.0 422.2 714.5 421.8Q711.0 421.4 709.2 419.6Q707.5 417.9 705.7 417.4Q704.0 417.0 704.0 415.7Q704.0 414.4 699.6 414.4Q695.2 414.4 694.4 413.2Q693.5 412.1 697.9 411.9Z" fill="#0a82e0"/>
<path d="M707.5 416.5Q711.0 416.1 716.2 416.5Q721.5 417.0 726.7 417.4Q732.0 417.9 739.4 417.9Q746.9 417.9 746.9 419.3Q746.9 420.8 739.4 420.7Q732.0 420.5 726.7 420.0Q721.5 419.6 717.1 420.0Q712.7 420.5 710.1 420.0Q707.5 419.6 705.7 418.3Q704.0 417.0 707.5 416.5Z" fill="#1050e0"/>
<path d="M728.5 420.9Q732.0 421.4 739.4 421.8Q746.9 422.2 746.9 428.8Q746.9 435.4 741.2 434.9Q735.5 434.5 732.0 432.7Q728.5 431.0 726.7 428.4Q725.0 425.7 725.0 423.1Q725.0 420.5 728.5 420.9Z" fill="#10bce0"/>
<path d="M724.5 424.0Q726.7 424.0 727.6 426.6Q728.5 429.2 726.7 431.4Q725.0 433.6 722.8 434.5Q720.6 435.4 720.2 434.0Q719.7 432.7 721.5 431.0Q723.2 429.2 722.8 426.6Q722.4 424.0 724.5 424.0Z" fill="#10dc82"/>
<path d="M724.1 424.9 L726.7 425.7 L726.4 428.4 L724.1 427.5Z" fill="#aadc14"/>
<path d="M732.0 427.0Q735.5 426.6 741.2 427.5Q746.9 428.4 746.9 430.1Q746.9 431.9 740.3 431.9Q733.7 431.9 731.5 431.0Q729.4 430.1 728.9 428.8Q728.5 427.5 732.0 427.0Z" fill="#10dc82"/>
<path d="M735.5 428.4 L740.4 428.9 L740.4 431.0 L735.8 430.6Z" fill="#aadc14"/>
<path d="M718.0 431.9 L725.0 433.6 L746.9 435.9 L746.9 437.1 L718.0 435.4Z" fill="#e6e6e6"/>
<path d="M669.9 413.5 L674.2 412.6 L675.1 416.6 L670.4 417.0Z" fill="#10dc82"/>
<path d="M683.9 414.4 L687.4 413.5 L688.2 417.0 L684.4 417.0Z" fill="#10dc82"/>
<path d="M615.6 408.2 L628.7 408.2 L633.1 411.7 L615.6 412.1Z" fill="#10bce0"/>
<path d="M545.5 316.5Q548.0 315.0 553.0 313.7Q558.0 312.4 563.0 312.0Q568.0 311.6 573.0 312.3Q578.0 313.0 581.5 314.3Q585.0 315.6 586.5 316.6Q588.0 317.6 586.0 318.8Q584.0 320.0 581.0 321.0Q578.0 322.0 574.0 322.5Q570.0 323.0 566.0 323.3Q562.0 323.6 561.0 324.8Q560.0 326.0 557.5 326.5Q555.0 327.0 553.3 326.3Q551.6 325.6 552.8 324.3Q554.0 323.0 551.5 322.0Q549.0 321.0 546.5 320.3Q544.0 319.6 543.5 318.8Q543.0 318.0 545.5 316.5Z" fill="#10dc82"/>
<path d="M509.5 334.6Q512.0 333.6 518.0 334.0Q524.0 334.4 530.0 335.2Q536.0 336.0 542.0 336.5Q548.0 337.0 550.5 337.5Q553.0 338.0 550.5 338.8Q548.0 339.6 542.0 339.6Q536.0 339.6 530.0 339.3Q524.0 339.0 518.5 339.3Q513.0 339.6 510.5 339.0Q508.0 338.4 507.5 337.0Q507.0 335.6 509.5 334.6Z" fill="#10bce0"/>
<path d="M555.0 339.6 L562.0 338.4 L569.0 339.6 L566.0 342.0 L558.0 342.4Z" fill="#10bce0"/>
<path d="M549.0 347.0 L555.0 346.4 L557.6 349.0 L553.0 349.6Z" fill="#10bce0"/>
<path d="M510.0 329.0 L515.0 326.0 L520.0 328.0 L517.0 331.0 L512.0 332.0Z" fill="#10dc82"/>
<path d="M513.0 319.0 L521.0 318.4 L521.6 320.4 L513.6 320.8Z" fill="#10dc82"/>
<path d="M506.0 319.6 L510.0 319.0 L511.0 322.0 L507.0 322.0Z" fill="#10dc82"/>
<path d="M487.0 316.0 L490.0 315.0 L491.0 319.0 L487.6 319.6Z" fill="#10dc82"/>
<path d="M487.0 332.0 L490.0 331.6 L490.4 334.4 L487.4 334.8Z" fill="#10dc82"/>
<path d="M529.6 319.0 L532.0 319.0 L532.0 320.4 L529.6 320.4Z" fill="#10dc82"/>
<path d="M571.5 333.3Q574.0 333.6 577.0 335.0Q580.0 336.4 581.0 337.4Q582.0 338.4 579.0 337.7Q576.0 337.0 573.0 336.0Q570.0 335.0 569.5 334.0Q569.0 333.0 571.5 333.3Z" fill="#10dc82"/>
<path d="M586.0 334.3Q589.0 335.0 592.5 335.3Q596.0 335.6 599.0 334.8Q602.0 334.0 605.0 335.0Q608.0 336.0 609.5 337.5Q611.0 339.0 610.5 341.0Q610.0 343.0 607.0 342.0Q604.0 341.0 600.0 340.3Q596.0 339.6 592.5 339.3Q589.0 339.0 587.0 338.0Q585.0 337.0 584.0 335.3Q583.0 333.6 586.0 334.3Z" fill="#10dc82"/>
<path d="M573.0 344.0 L578.0 344.0 L578.0 345.6 L573.0 345.6Z" fill="#10dc82"/>
<path d="M583.0 343.6 L589.0 344.0 L592.0 347.0 L589.0 348.0 L584.0 346.0Z" fill="#10dc82"/>
<path d="M598.0 347.0 L604.0 347.6 L608.0 350.0 L602.0 351.0 L598.0 349.6Z" fill="#10dc82"/>
<path d="M612.0 344.0 L614.4 343.6 L615.0 346.0 L612.4 346.4Z" fill="#10dc82"/>
<path d="M618.5 347.5Q620.0 347.0 621.0 350.5Q622.0 354.0 624.0 356.5Q626.0 359.0 635.5 358.5Q645.0 358.0 645.0 361.2Q645.0 364.4 636.5 364.7Q628.0 365.0 623.0 365.0Q618.0 365.0 615.0 364.0Q612.0 363.0 615.0 361.5Q618.0 360.0 619.0 358.5Q620.0 357.0 619.0 355.0Q618.0 353.0 617.5 350.5Q617.0 348.0 618.5 347.5Z" fill="#10dc82"/>
<path d="M628.0 360.0 L645.0 359.0 L645.0 363.0 L630.0 363.6Z" fill="#3cd214"/>
<path d="M599.0 353.6 L604.0 353.0 L605.0 355.6 L599.6 356.0Z" fill="#10bce0"/>
<path d="M606.0 358.0 L614.0 357.0 L618.0 359.0 L613.0 361.0 L607.0 360.4Z" fill="#10bce0"/>
<path d="M475.0 356.0 L484.0 357.0 L487.0 361.0 L484.0 364.4 L475.0 364.0Z" fill="#10bce0"/>
<path d="M483.0 369.6 L488.0 369.6 L488.0 371.0 L483.0 371.0Z" fill="#10dc82"/>
<path d="M491.0 373.3Q496.0 373.0 501.0 373.5Q506.0 374.0 505.5 375.0Q505.0 376.0 498.5 376.0Q492.0 376.0 489.2 375.6Q486.4 375.2 486.2 374.4Q486.0 373.6 491.0 373.3Z" fill="#10bce0"/>
<path d="M506.0 367.0 L512.0 367.0 L512.0 368.4 L506.0 368.4Z" fill="#10bce0"/>
<path d="M515.0 376.0 L519.0 376.0 L519.0 378.0 L515.0 378.0Z" fill="#10dc82"/>
<path d="M522.5 368.5Q528.0 368.0 534.0 368.8Q540.0 369.6 541.0 370.6Q542.0 371.6 536.0 371.6Q530.0 371.6 524.0 371.3Q518.0 371.0 517.5 370.0Q517.0 369.0 522.5 368.5Z" fill="#10dc82"/>
<path d="M521.5 252.5Q528.0 252.0 532.0 252.8Q536.0 253.6 539.0 254.8Q542.0 256.0 543.5 257.0Q545.0 258.0 544.5 259.5Q544.0 261.0 541.0 260.5Q538.0 260.0 535.5 260.2Q533.0 260.4 530.5 259.2Q528.0 258.0 521.5 258.0Q515.0 258.0 515.0 255.5Q515.0 253.0 521.5 252.5Z" fill="#10bce0"/>
<path d="M522.0 254.0 L532.0 253.6 L540.0 256.4 L534.0 258.0 L524.0 257.0Z" fill="#0aa0e0"/>
<path d="M565.0 269.0 L568.0 268.0 L570.0 271.0 L567.0 273.0Z" fill="#10bce0"/>
<path d="M571.0 267.0 L573.0 265.0 L575.6 269.0 L572.4 271.0Z" fill="#10bce0"/>
<path d="M584.0 268.0 L588.0 266.0 L591.0 267.0 L590.4 270.4 L585.0 270.4Z" fill="#10bce0"/>
<path d="M550.0 276.0 L552.0 275.6 L552.4 278.0 L550.4 278.4Z" fill="#10bce0"/>
<path d="M622.0 258.0 L625.0 258.0 L625.0 260.0 L622.0 260.0Z" fill="#10bce0"/>
<path d="M729.0 186.5Q732.0 186.0 736.0 186.5Q740.0 187.0 744.5 187.5Q749.0 188.0 749.0 191.0Q749.0 194.0 742.5 194.0Q736.0 194.0 733.0 192.5Q730.0 191.0 728.5 190.0Q727.0 189.0 726.5 188.0Q726.0 187.0 729.0 186.5Z" fill="#10dc82"/>
<path d="M713.0 201.0Q716.0 199.0 718.0 197.5Q720.0 196.0 721.0 198.0Q722.0 200.0 721.5 202.5Q721.0 205.0 718.5 206.0Q716.0 207.0 713.5 207.5Q711.0 208.0 709.0 208.5Q707.0 209.0 706.5 208.0Q706.0 207.0 708.0 205.0Q710.0 203.0 713.0 201.0Z" fill="#10dc82"/>
<path d="M685.5 207.5Q688.0 207.0 692.0 207.5Q696.0 208.0 698.0 209.0Q700.0 210.0 698.5 211.5Q697.0 213.0 693.5 213.5Q690.0 214.0 687.5 213.5Q685.0 213.0 684.0 210.5Q683.0 208.0 685.5 207.5Z" fill="#10dc82"/>
<path d="M702.0 208.0 L705.0 208.0 L705.6 210.4 L702.4 210.8Z" fill="#10dc82"/>
<path d="M714.0 189.0 L717.0 188.0 L718.0 191.0 L715.0 192.0Z" fill="#10dc82"/>
<path d="M649.0 221.0 L654.0 220.0 L656.0 222.0 L651.0 224.0Z" fill="#10dc82"/>
<path d="M676.0 207.0 L679.0 206.6 L679.6 209.0 L676.6 209.4Z" fill="#aadc14"/>
<path d="M680.5 219.7Q684.0 218.4 689.0 218.4Q694.0 218.4 696.0 219.7Q698.0 221.0 697.5 223.5Q697.0 226.0 695.5 228.0Q694.0 230.0 691.0 230.8Q688.0 231.6 685.0 230.8Q682.0 230.0 680.0 228.5Q678.0 227.0 677.5 224.0Q677.0 221.0 680.5 219.7Z" fill="#10bce0"/>
<path d="M683.0 221.2Q687.0 220.4 690.5 221.2Q694.0 222.0 694.5 224.5Q695.0 227.0 692.0 228.3Q689.0 229.6 685.5 228.8Q682.0 228.0 680.5 225.0Q679.0 222.0 683.0 221.2Z" fill="#0aa0e0"/>
<path d="M698.0 230.0Q702.0 228.0 705.0 226.5Q708.0 225.0 714.0 224.7Q720.0 224.4 723.0 225.2Q726.0 226.0 725.0 228.5Q724.0 231.0 721.5 232.5Q719.0 234.0 716.5 235.5Q714.0 237.0 709.0 237.0Q704.0 237.0 701.0 236.0Q698.0 235.0 696.0 233.5Q694.0 232.0 698.0 230.0Z" fill="#10dc82"/>
<path d="M704.0 230.5Q708.0 229.0 714.0 228.3Q720.0 227.6 721.0 229.3Q722.0 231.0 718.0 232.5Q714.0 234.0 709.0 234.5Q704.0 235.0 702.0 233.5Q700.0 232.0 704.0 230.5Z" fill="#3cd214"/>
<path d="M731.0 229.0 L736.0 227.0 L739.6 229.0 L738.0 232.0 L733.0 232.4Z" fill="#10bce0"/>
<path d="M683.0 242.0Q686.0 240.0 690.0 238.5Q694.0 237.0 699.0 237.3Q704.0 237.6 705.0 239.3Q706.0 241.0 704.0 243.0Q702.0 245.0 698.0 246.0Q694.0 247.0 689.0 250.0Q684.0 253.0 682.0 248.5Q680.0 244.0 683.0 242.0Z" fill="#10dc82"/>
<path d="M660.5 238.0Q664.0 237.0 669.0 237.3Q674.0 237.6 676.5 238.8Q679.0 240.0 676.5 241.5Q674.0 243.0 670.0 243.5Q666.0 244.0 663.0 243.5Q660.0 243.0 658.5 241.0Q657.0 239.0 660.5 238.0Z" fill="#10dc82"/>
<path d="M662.0 240.0 L670.0 239.0 L672.0 242.0 L665.0 243.0Z" fill="#3cd214"/>
<path d="M738.0 175.0 L749.0 174.0 L749.0 179.0 L738.4 178.0Z" fill="#10dc82"/>
<path d="M738.0 183.0 L749.0 182.4 L749.0 186.0 L738.4 185.6Z" fill="#10bce0"/>
<path d="M638.0 224.0Q640.0 223.0 644.0 223.5Q648.0 224.0 656.0 224.0Q664.0 224.0 666.0 226.0Q668.0 228.0 666.0 231.0Q664.0 234.0 668.0 235.5Q672.0 237.0 678.5 236.5Q685.0 236.0 685.0 238.0Q685.0 240.0 674.5 241.5Q664.0 243.0 658.0 244.5Q652.0 246.0 646.0 246.0Q640.0 246.0 637.5 243.0Q635.0 240.0 635.5 232.5Q636.0 225.0 638.0 224.0Z" fill="#10bce0"/>
<path d="M639.0 225.0Q642.0 224.0 645.0 226.0Q648.0 228.0 650.0 230.0Q652.0 232.0 656.0 234.0Q660.0 236.0 659.0 239.0Q658.0 242.0 653.0 242.5Q648.0 243.0 644.0 241.5Q640.0 240.0 638.0 237.0Q636.0 234.0 636.0 230.0Q636.0 226.0 639.0 225.0Z" fill="#0a82e0"/>
<path d="M638.0 232.0 L644.0 230.0 L650.0 236.0 L644.0 240.0 L639.0 238.0Z" fill="#1050e0"/>
<path d="M642.5 223.0Q650.0 222.0 656.0 222.8Q662.0 223.6 663.0 225.8Q664.0 228.0 661.5 230.5Q659.0 233.0 655.0 235.0Q651.0 237.0 650.0 241.0Q649.0 245.0 642.0 245.5Q635.0 246.0 635.0 235.0Q635.0 224.0 642.5 223.0Z" fill="#10bce0"/>
<path d="M641.5 225.0Q648.0 224.0 654.0 224.0Q660.0 224.0 661.5 226.0Q663.0 228.0 660.5 230.0Q658.0 232.0 654.0 233.5Q650.0 235.0 649.0 237.5Q648.0 240.0 641.5 241.0Q635.0 242.0 635.0 234.0Q635.0 226.0 641.5 225.0Z" fill="#0aa0e0"/>
<path d="M651.0 220.0 L656.0 219.0 L658.0 222.0 L653.0 224.0Z" fill="#10dc82"/>
<path d="M636.0 243.0 L644.0 242.4 L648.0 245.0 L640.0 247.0 L635.6 246.0Z" fill="#10dc82"/>
<path d="M663.0 236.5Q668.0 236.0 673.0 237.5Q678.0 239.0 681.5 240.0Q685.0 241.0 678.5 242.5Q672.0 244.0 668.0 244.0Q664.0 244.0 661.5 242.5Q659.0 241.0 658.5 239.0Q658.0 237.0 663.0 236.5Z" fill="#10dc82"/>
<path d="M676.0 223.0 L694.0 223.0 L690.0 230.4 L680.0 230.0Z" fill="#10bce0"/>
<path d="M700.0 231.0Q706.0 229.0 713.0 226.0Q720.0 223.0 723.0 226.0Q726.0 229.0 724.0 231.5Q722.0 234.0 719.0 235.2Q716.0 236.4 711.0 236.2Q706.0 236.0 702.0 235.5Q698.0 235.0 696.0 234.0Q694.0 233.0 700.0 231.0Z" fill="#10dc82"/>
<path d="M700.0 233.0 L710.0 230.4 L720.0 230.0 L719.0 233.6 L710.0 235.0Z" fill="#3cd214"/>
<path d="M731.0 229.0 L739.0 223.0 L739.6 230.4 L734.0 232.0Z" fill="#10bce0"/>
<path d="M683.0 241.0Q686.0 239.0 692.0 238.0Q698.0 237.0 702.0 237.5Q706.0 238.0 705.0 240.0Q704.0 242.0 701.0 243.5Q698.0 245.0 694.0 246.0Q690.0 247.0 686.5 247.0Q683.0 247.0 681.5 245.0Q680.0 243.0 683.0 241.0Z" fill="#10dc82"/>
<path d="M658.0 239.0Q662.0 238.0 667.0 237.8Q672.0 237.6 675.0 238.3Q678.0 239.0 677.0 240.7Q676.0 242.4 672.0 243.2Q668.0 244.0 664.0 243.8Q660.0 243.6 657.0 241.8Q654.0 240.0 658.0 239.0Z" fill="#10dc82"/>
<path d="M661.0 240.4 L670.0 239.6 L672.0 242.0 L664.0 243.0Z" fill="#3cd214"/>
<path d="M635.0 234.0 L648.0 232.0 L651.0 235.0 L646.0 239.0 L635.0 240.0Z" fill="#0a82e0"/>
<path d="M635.0 242.0 L645.0 241.0 L646.0 245.0 L635.0 246.0Z" fill="#10bce0"/>
<path d="M647.0 246.0 L649.8 246.0 L649.8 248.4 L647.0 248.4Z" fill="#10dc82"/>
<path d="M652.0 247.4 L654.8 247.4 L654.8 249.8 L652.0 249.8Z" fill="#10dc82"/>
<path d="M664.0 247.4 L666.8 247.4 L666.8 249.8 L664.0 249.8Z" fill="#10dc82"/>
<path d="M642.0 249.6 L644.8 249.6 L644.8 252.0 L642.0 252.0Z" fill="#10dc82"/>
<path d="M656.0 251.4 L658.8 251.4 L658.8 253.8 L656.0 253.8Z" fill="#10dc82"/>
<path d="M671.5 294.0Q673.0 291.0 674.5 292.5Q676.0 294.0 678.0 296.5Q680.0 299.0 684.0 299.5Q688.0 300.0 694.0 300.5Q700.0 301.0 706.0 301.7Q712.0 302.4 718.0 303.0Q724.0 303.6 728.0 305.3Q732.0 307.0 729.0 308.5Q726.0 310.0 721.0 309.5Q716.0 309.0 710.0 309.0Q704.0 309.0 699.0 309.5Q694.0 310.0 691.0 308.5Q688.0 307.0 685.0 306.0Q682.0 305.0 679.0 303.5Q676.0 302.0 673.5 301.5Q671.0 301.0 670.5 299.0Q670.0 297.0 671.5 294.0Z" fill="#10bce0"/>
<path d="M660.0 295.0 L663.0 295.0 L663.0 298.0 L660.0 298.0Z" fill="#10bce0"/>
<path d="M714.0 344.0 L724.0 343.6 L749.0 344.0 L749.0 353.0 L714.0 353.0Z" fill="#10dc82"/>
<path d="M700.0 341.0 L703.0 341.0 L703.0 344.0 L700.0 344.0Z" fill="#10dc82"/>
<path d="M690.0 336.0 L692.4 336.0 L692.4 338.4 L690.0 338.4Z" fill="#10dc82"/>
<path d="M739.0 329.0 L749.0 328.0 L749.0 334.0 L739.0 333.0Z" fill="#10bce0"/>
<path d="M396.0 164.8 L405.0 163.8 L409.5 166.0 L405.0 169.8 L397.5 170.2Z" fill="#3cd214"/>
<path d="M414.0 159.2 L423.0 158.5 L426.0 162.2 L421.5 166.0 L415.5 165.2Z" fill="#3cd214"/>
<path d="M392.2 196.8Q394.5 197.5 396.0 201.2Q397.5 205.0 399.4 208.0Q401.2 211.0 399.8 211.4Q398.2 211.8 396.0 208.4Q393.8 205.0 391.9 200.5Q390.0 196.0 392.2 196.8Z" fill="#aadc14"/>
<path d="M83.0 435.4 L129.0 435.4 L146.0 432.0 L147.0 430.4 L175.0 430.4 L175.0 426.4 L236.0 426.4 L236.0 422.0 L237.0 422.0 L272.0 422.0 L272.0 417.0 L292.0 417.0 L292.0 412.0 L299.0 412.0 L300.0 426.0 L342.0 426.0 L342.0 430.0 L348.0 430.0 L348.0 436.0 L360.0 436.0 L360.0 436.0 L370.0 432.0 L380.0 429.0 L390.0 426.4 L400.0 425.6 L410.0 423.6 L420.0 424.4 L430.0 424.0 L440.0 423.6 L450.0 425.0 L460.0 424.4 L472.0 422.4 L484.0 423.0 L492.0 418.0 L500.0 418.0 L508.0 416.4 L520.0 417.0 L580.0 417.0 L580.0 412.4 L670.0 412.4 L670.0 417.0 L670.0 417.0 L704.0 417.0 L704.0 421.0 L710.0 421.0 L710.0 425.0 L724.0 425.0 L724.0 428.0 L720.0 431.0 L712.0 433.0 L709.6 436.0 L720.0 436.0 L742.0 436.0 L742.0 462.0 L83.0 462.0Z" fill="#999999"/>
<path d="M120.0 167.4 L118.0 171.0 L120.0 175.0 L114.0 177.0 L119.0 180.4 L123.0 183.0 L130.0 185.0 L118.0 190.4 L128.0 188.0 L131.0 184.4 L140.0 183.0 L150.0 185.0 L162.0 188.0 L170.0 194.0 L178.0 201.0 L187.0 206.4 L184.4 211.0 L183.0 217.0 L183.6 224.0 L188.0 228.0 L192.0 233.0 L200.0 240.0 L200.0 236.0 L206.0 242.0 L212.0 250.0 L219.0 258.0 L226.0 264.0 L236.0 267.0 L243.0 269.0 L252.0 274.0 L260.0 279.0 L265.0 283.0 L269.0 281.0 L271.0 279.6 L271.0 278.0 L269.0 279.0 L265.0 277.0 L260.0 275.0 L259.0 268.0 L254.0 267.0 L250.0 265.0 L252.4 261.0 L253.0 256.0 L248.0 257.0 L244.0 261.0 L238.0 262.0 L234.0 258.0 L233.0 250.0 L235.0 244.0 L240.0 241.6 L248.0 241.0 L254.0 240.0 L258.0 240.6 L260.0 245.0 L263.0 248.8 L264.4 248.0 L265.6 245.0 L264.4 237.0 L269.0 232.0 L271.0 228.0 L274.0 222.0 L280.0 219.0 L284.0 217.0 L288.0 215.0 L294.0 212.0 L300.0 210.0 L309.0 209.0 L315.0 208.0 L312.0 202.0 L309.0 198.0 L304.0 194.0 L300.0 188.0 L294.0 185.0 L288.0 184.0 L286.0 182.4 L294.0 178.0 L299.0 175.0 L300.0 173.0 L292.0 169.0 L284.0 166.0 L276.0 163.0 L272.4 160.0 L274.0 154.0 L280.0 153.0 L288.0 151.0 L296.0 148.0 L300.0 144.0 L284.0 143.0 L270.0 142.4 L256.0 142.0 L243.0 143.0 L234.0 145.0 L232.0 148.0 L220.0 149.0 L210.0 150.0 L200.0 151.0 L186.0 155.0 L182.0 160.0 L180.0 166.6 L176.0 168.4 L168.0 169.4 L160.0 169.0 L150.0 167.6 L140.0 166.0 L126.0 165.2Z M294.0 145.0 L300.0 148.0 L308.0 158.0 L313.0 165.0 L318.0 169.0 L320.0 178.0 L324.0 182.0 L331.0 185.0 L338.0 180.0 L346.0 175.0 L356.0 171.0 L360.0 170.0 L364.0 167.0 L370.0 163.0 L375.0 159.0 L374.0 154.0 L380.0 150.0 L388.0 146.0 L372.0 144.0 L360.0 142.0 L348.0 142.4 L330.0 143.0 L312.0 144.0Z M271.0 279.0 L274.0 276.0 L280.0 274.4 L286.0 275.0 L291.0 276.0 L296.0 275.0 L300.0 276.0 L304.0 279.0 L309.0 283.0 L315.0 287.0 L320.0 292.0 L322.0 296.0 L330.0 299.0 L340.0 302.0 L347.0 306.0 L348.4 310.0 L345.0 318.0 L341.0 326.0 L340.0 332.0 L336.0 336.0 L328.0 340.0 L324.0 344.0 L323.0 348.0 L321.0 348.0 L318.0 354.0 L312.0 359.0 L306.0 360.0 L308.0 363.0 L302.0 366.0 L298.0 368.0 L296.0 371.0 L293.0 375.0 L292.0 379.0 L288.0 383.0 L286.0 388.0 L288.0 393.0 L295.0 396.4 L290.0 397.0 L284.0 396.0 L277.0 390.0 L275.0 382.0 L276.0 374.0 L278.0 364.0 L280.0 356.0 L282.0 348.0 L285.0 342.0 L284.0 334.0 L282.0 328.0 L278.0 325.0 L272.0 320.0 L269.0 314.0 L266.0 308.0 L263.6 302.0 L264.4 296.0 L268.0 290.0 L270.0 284.0Z M401.2 229.8 L405.0 229.8 L420.0 228.2 L430.5 227.5 L431.2 232.0 L435.0 234.2 L441.0 235.0 L450.0 235.8 L450.0 238.0 L457.5 238.0 L465.0 238.8 L471.8 238.8 L472.0 239.0 L475.6 247.0 L478.4 256.0 L484.0 266.0 L490.0 272.0 L493.0 275.0 L507.0 273.6 L504.0 282.0 L498.0 290.0 L490.0 298.0 L484.0 305.0 L485.0 314.0 L484.0 320.0 L480.0 326.0 L474.0 332.0 L471.0 340.0 L470.0 348.0 L471.0 348.0 L469.0 352.0 L464.0 356.0 L456.0 358.0 L448.0 358.0 L445.0 356.0 L443.0 350.0 L442.0 348.0 L439.0 340.0 L435.0 332.0 L434.0 322.0 L437.0 314.0 L435.0 304.0 L430.4 298.0 L430.0 290.0 L426.0 287.0 L418.0 285.0 L408.0 287.0 L397.0 287.0 L390.0 282.0 L386.0 276.0 L381.0 268.0 L382.0 256.0 L386.0 248.0 L392.0 240.0 L399.0 231.0Z M502.0 319.0 L504.4 322.0 L503.0 332.0 L498.0 342.0 L493.0 343.0 L491.0 337.0 L493.0 328.0 L498.0 324.0Z M401.2 229.3 L399.0 229.0 L396.8 226.0 L396.0 220.0 L396.8 216.2 L404.2 215.5 L408.8 214.8 L408.0 211.8 L405.0 208.0 L409.5 206.5 L417.0 202.0 L424.5 198.2 L430.5 195.2 L433.5 192.2 L435.0 190.0 L432.8 187.0 L429.0 188.5 L424.5 188.5 L421.5 185.5 L422.2 182.5 L426.0 179.5 L435.0 173.5 L442.5 169.0 L450.0 166.8 L457.5 166.0 L468.0 167.5 L474.0 169.8 L480.0 171.2 L486.0 172.8 L492.0 174.2 L501.0 173.5 L510.0 174.2 L520.0 167.0 L532.0 165.0 L535.0 163.0 L546.0 161.0 L556.0 164.0 L566.0 161.0 L570.0 158.0 L586.0 156.0 L594.0 155.0 L614.0 153.6 L620.0 156.0 L622.0 160.0 L648.0 161.0 L650.0 164.0 L666.0 165.0 L670.0 162.0 L680.0 162.4 L688.0 164.0 L706.0 168.0 L720.0 169.0 L744.0 170.0 L744.0 179.0 L730.0 181.6 L720.0 183.6 L715.0 182.0 L712.0 185.0 L709.0 192.0 L704.0 198.0 L699.0 201.6 L697.6 200.0 L699.0 190.0 L704.0 184.0 L701.0 182.0 L696.0 185.0 L686.0 186.0 L676.0 187.0 L668.0 190.0 L660.0 195.0 L666.0 197.0 L671.0 196.0 L672.0 204.0 L670.0 212.0 L660.0 217.0 L652.0 220.0 L648.0 223.0 L646.0 226.0 L644.0 225.0 L640.0 223.5 L635.0 224.5 L635.0 230.0 L636.0 235.0 L635.0 240.0 L633.0 246.0 L631.0 246.0 L626.0 252.0 L618.0 254.0 L610.0 256.0 L606.0 259.0 L608.0 263.0 L612.0 266.0 L613.0 271.0 L609.0 275.0 L604.0 276.0 L598.4 271.0 L597.0 275.0 L599.0 281.0 L602.4 287.0 L604.0 293.0 L602.4 294.4 L600.0 293.0 L597.0 287.0 L594.4 281.0 L593.0 273.0 L591.0 267.0 L587.0 264.0 L584.0 260.0 L579.0 254.0 L572.0 255.0 L567.0 260.0 L559.0 267.0 L558.0 273.0 L556.0 280.0 L553.0 278.0 L549.0 270.0 L546.0 262.0 L545.0 257.0 L540.0 254.0 L533.0 249.0 L520.0 249.0 L520.0 253.6 L517.0 260.0 L510.0 266.0 L500.0 271.0 L493.0 275.0 L490.0 268.0 L485.0 258.0 L480.0 250.4 L476.4 242.4 L474.4 238.0 L474.0 241.0 L475.5 238.8 L477.8 235.0 L478.5 229.0 L474.0 229.0 L465.0 229.8 L460.5 226.0 L457.5 223.0 L456.0 226.8 L453.0 224.5 L450.0 220.0 L445.5 216.2 L439.5 212.5 L435.0 211.8 L439.5 214.8 L445.5 220.0 L450.0 223.0 L448.5 224.5 L442.5 221.5 L436.5 217.8 L432.8 214.0 L429.0 215.5 L424.5 215.5 L417.0 217.8 L412.5 221.5 L409.5 226.0Z M369.0 175.6 L374.0 173.6 L382.0 174.0 L387.0 176.0 L385.0 178.4 L378.0 179.2 L371.0 178.0Z M406.5 187.8 L411.0 187.0 L412.5 190.0 L411.0 193.8 L414.0 197.5 L415.5 201.2 L412.5 204.2 L405.0 205.0 L404.2 202.8 L408.0 200.5 L405.8 197.5 L407.2 193.8 L405.0 190.8Z M395.2 196.0 L399.0 194.5 L402.0 196.0 L401.2 199.8 L397.5 201.2 L394.5 199.3Z M432.0 149.0 L440.0 147.0 L450.0 147.0 L458.0 149.0 L456.0 152.0 L448.0 153.6 L440.0 153.0 L434.0 152.0Z M620.0 337.0 L626.0 332.0 L634.0 328.0 L640.0 324.0 L648.0 319.0 L654.0 316.0 L660.0 318.0 L664.0 314.0 L667.0 316.0 L669.0 323.0 L674.0 326.0 L675.0 320.0 L677.0 316.0 L672.0 316.0 L674.0 322.0 L678.0 328.0 L683.0 334.0 L689.0 340.0 L693.0 346.0 L693.6 348.0 L692.4 354.0 L688.0 360.0 L685.0 365.0 L680.0 367.0 L672.0 365.0 L668.0 361.0 L665.0 357.0 L663.0 360.0 L659.0 356.0 L652.0 353.6 L644.0 355.0 L640.0 356.0 L634.0 357.0 L626.0 358.0 L623.0 354.0 L622.0 348.0 L619.0 344.0Z M717.0 378.0 L720.0 374.0 L726.0 371.0 L732.0 367.0 L736.0 365.0 L739.0 366.0 L738.0 370.0 L733.0 373.0 L728.0 376.0 L723.0 380.0 L719.0 381.6Z M661.0 300.0 L666.0 299.6 L672.0 302.0 L679.0 305.0 L685.0 308.0 L689.0 313.0 L688.0 315.6 L683.0 313.0 L677.0 309.0 L672.0 311.0 L668.0 308.0 L664.0 304.0Z M612.0 292.0 L620.0 288.0 L628.0 284.0 L630.0 288.0 L628.0 294.0 L626.0 300.0 L620.0 302.0 L614.0 299.0Z M587.0 286.0 L593.0 288.0 L600.0 294.0 L606.0 300.0 L607.0 305.0 L604.0 306.0 L598.0 301.0 L592.0 294.0Z M632.0 262.0 L636.0 263.0 L640.0 271.0 L643.0 279.0 L640.0 285.0 L636.0 283.0 L635.0 276.0 L632.0 268.0Z M670.0 214.0 L673.0 213.0 L676.0 215.0 L678.0 217.0 L676.0 219.0 L672.0 218.0 L670.0 216.5Z M663.0 225.0 L667.0 224.0 L670.0 220.0 L671.0 217.0 L674.0 217.0 L676.0 219.0 L676.0 224.0 L673.0 225.0 L670.0 230.0 L667.0 232.0 L663.0 233.0 L658.0 234.0 L654.0 235.0 L653.0 233.0 L658.0 231.0 L662.0 228.0Z M83.0 169.4 L92.0 170.4 L100.0 173.0 L99.0 176.0 L83.0 176.0Z M281.0 258.0 L285.0 257.6 L288.0 260.0 L286.0 262.4 L281.6 261.6Z M728.5 358.4 L732.0 361.9 L735.5 365.4 L739.9 364.5 L739.0 368.0 L734.6 369.7 L732.9 366.2 L729.4 361.9Z" fill="#999999" stroke="#000" stroke-width="1.1" stroke-linejoin="round"/>
<path d="M463.5 217.8 L465.0 213.2 L469.5 210.2 L477.0 211.0 L483.0 209.5 L483.8 214.0 L488.2 217.0 L487.5 219.2 L480.0 219.2 L471.0 219.2 L466.5 220.0Z M498.0 212.0 L504.0 209.0 L511.0 211.0 L512.0 216.0 L509.0 221.0 L511.0 226.0 L506.0 228.0 L503.0 224.0 L504.0 218.0 L499.0 216.0Z M500.0 240.0 L504.0 239.6 L512.0 245.0 L517.0 248.0 L520.0 253.6 L516.0 249.6 L508.0 247.6 L503.0 244.0Z" fill="#e6e6e6" stroke="#000" stroke-width="1.1" stroke-linejoin="round"/>
<path d="M249.0 179.3Q254.0 178.6 257.5 178.3Q261.0 178.0 262.5 176.0Q264.0 174.0 265.0 172.3Q266.0 170.6 269.0 170.3Q272.0 170.0 275.0 170.5Q278.0 171.0 278.5 173.0Q279.0 175.0 277.5 176.5Q276.0 178.0 279.0 179.0Q282.0 180.0 284.0 181.5Q286.0 183.0 284.0 183.5Q282.0 184.0 278.0 183.5Q274.0 183.0 272.5 184.0Q271.0 185.0 271.5 189.0Q272.0 193.0 270.5 195.0Q269.0 197.0 269.0 199.5Q269.0 202.0 267.5 201.5Q266.0 201.0 265.0 198.5Q264.0 196.0 261.0 195.0Q258.0 194.0 254.0 193.0Q250.0 192.0 247.5 190.0Q245.0 188.0 244.3 185.5Q243.6 183.0 243.8 181.5Q244.0 180.0 249.0 179.3Z" fill="#10dc82"/>
<path d="M266.0 180.8Q268.0 180.6 269.0 182.8Q270.0 185.0 269.8 190.0Q269.6 195.0 268.3 195.5Q267.0 196.0 266.3 192.5Q265.6 189.0 264.8 185.0Q264.0 181.0 266.0 180.8Z" fill="#e6e6e6"/>
<path d="M271.0 171.0 L277.0 171.0 L278.0 174.0 L273.0 175.0Z" fill="#3cd214"/>
<path d="M286.0 183.0 L292.0 184.0 L293.0 188.0 L287.0 188.0Z" fill="#e6e6e6"/>
<path d="M222.5 157.5Q226.0 157.0 228.0 158.5Q230.0 160.0 233.0 161.5Q236.0 163.0 235.0 165.0Q234.0 167.0 231.0 167.5Q228.0 168.0 224.5 166.5Q221.0 165.0 220.0 161.5Q219.0 158.0 222.5 157.5Z" fill="#e6e6e6"/>
<path d="M203.0 165.2Q210.0 165.4 215.0 166.0Q220.0 166.6 220.0 167.4Q220.0 168.2 215.0 167.9Q210.0 167.6 203.0 167.1Q196.0 166.6 196.0 165.8Q196.0 165.0 203.0 165.2Z" fill="#e6e6e6"/>
<path d="M186.0 154.5Q190.0 154.0 197.0 154.5Q204.0 155.0 204.5 155.8Q205.0 156.6 197.5 156.4Q190.0 156.2 186.2 156.4Q182.4 156.6 182.2 155.8Q182.0 155.0 186.0 154.5Z" fill="#e6e6e6"/>
<path d="M205.0 153.4 L213.0 152.6 L214.0 155.0 L206.0 155.4Z" fill="#10dc82"/>
<path d="M232.0 146.0 L240.0 145.0 L242.0 147.0 L234.0 148.6Z" fill="#10bce0"/>
<path d="M240.0 142.6 L245.0 142.2 L245.4 144.2 L240.4 144.4Z" fill="#10bce0"/>
<path d="M252.0 142.0 L257.0 142.0 L257.2 144.0 L252.4 144.0Z" fill="#10bce0"/>
<path d="M274.0 156.0 L277.0 156.0 L277.0 158.0 L274.0 158.0Z" fill="#10dc82"/>
<path d="M278.0 151.0 L280.0 151.0 L280.0 153.0 L278.0 153.0Z" fill="#10dc82"/>
<path d="M418.1 216.6Q420.0 216.2 421.9 217.0Q423.8 217.8 424.5 218.9Q425.2 220.0 425.6 221.9Q426.0 223.8 424.9 224.1Q423.8 224.5 422.6 222.6Q421.5 220.8 420.0 220.4Q418.5 220.0 417.8 219.2Q417.0 218.5 416.6 217.8Q416.2 217.0 418.1 216.6Z" fill="#10dc82"/>
<path d="M412.5 223.0 L417.8 221.5 L419.2 224.5 L417.0 226.8 L413.2 226.0Z" fill="#10dc82"/>
<path d="M409.5 225.2 L412.5 224.5 L413.2 227.5 L410.2 228.2Z" fill="#10bce0"/>
<path d="M427.5 218.5 L429.8 217.8 L430.5 223.0 L428.2 223.8Z" fill="#10bce0"/>
<path d="M431.2 220.0 L435.0 221.5 L438.0 224.5 L435.0 226.0 L432.0 223.8Z" fill="#10dc82"/>
<path d="M433.5 220.0 L439.5 219.7 L443.2 222.2 L441.0 225.2 L436.5 223.8Z" fill="#0aa0e0"/>
<path d="M445.5 221.5 L449.2 223.8 L451.5 226.8 L449.2 227.5 L446.2 224.5Z" fill="#10bce0"/>
<path d="M454.5 227.9Q456.8 227.5 458.6 227.9Q460.5 228.2 459.8 230.1Q459.0 232.0 456.8 232.4Q454.5 232.8 453.1 231.6Q451.8 230.5 452.0 229.4Q452.2 228.2 454.5 227.9Z" fill="#10bce0"/>
<path d="M462.8 230.1Q465.0 230.5 467.2 229.9Q469.5 229.3 470.2 230.7Q471.0 232.0 468.8 232.9Q466.5 233.8 464.2 233.7Q462.0 233.5 461.2 231.6Q460.5 229.8 462.8 230.1Z" fill="#10dc82"/>
<path d="M501.0 211.4Q504.0 211.0 504.8 212.9Q505.5 214.8 504.8 217.0Q504.0 219.2 502.1 219.6Q500.2 220.0 499.1 218.5Q498.0 217.0 498.0 214.4Q498.0 211.8 501.0 211.4Z" fill="#10bce0"/>
<path d="M182.0 165.0 L196.0 165.4 L197.0 167.4 L182.0 168.0Z" fill="#e6e6e6"/>
<path d="M222.5 155.5Q227.0 155.0 229.5 157.0Q232.0 159.0 234.5 161.0Q237.0 163.0 236.0 165.5Q235.0 168.0 231.0 168.5Q227.0 169.0 223.5 167.5Q220.0 166.0 218.5 163.5Q217.0 161.0 217.5 158.5Q218.0 156.0 222.5 155.5Z" fill="#e6e6e6"/>
<path d="M236.0 149.0 L246.0 150.0 L247.0 152.0 L237.0 151.4Z" fill="#e6e6e6"/>
<path d="M120.0 255.0h0.6M127.0 258.0h0.6M127.6 259.0h0.6M125.0 260.0h0.6M115.6 284.6h0.6M124.4 292.0h0.6M118.0 314.4h0.6M123.0 312.4h0.6M156.0 312.0h0.6M158.0 313.4h0.6M97.0 321.0h0.6M134.4 326.4h0.6M139.0 327.6h0.6M144.6 322.0h0.6M146.6 332.0h0.6M154.4 332.0h0.6M155.0 335.4h0.6M164.0 335.0h0.6M161.0 338.4h0.6M173.6 341.6h0.6M183.6 341.0h0.6M212.0 345.4h0.6M205.0 262.4h0.6M100.0 302.4h0.6M95.6 301.0h0.6M101.0 330.4h0.6M678.0 259.6h0.6M679.0 262.4h0.6M679.0 268.0h0.6M677.0 271.0h0.6M659.0 281.6h0.6M665.6 278.4h0.6M691.0 282.0h0.6M693.6 285.4h0.6M702.0 282.4h0.6M710.4 286.0h0.6M717.0 260.0h0.6M717.0 275.0h0.6M718.4 279.0h0.6M725.0 280.0h0.6M722.4 285.0h0.6M728.4 292.4h0.6M731.0 297.0h0.6M717.0 297.0h0.6M722.0 297.4h0.6M716.0 315.4h0.6M706.0 317.0h0.6M718.0 324.0h0.6M720.0 327.6h0.6M721.6 331.0h0.6M714.0 333.6h0.6M717.0 335.6h0.6M693.6 251.0h0.6M368.0 264.0h0.6M369.0 268.0h0.6M365.0 266.0h0.6M406.0 296.4h0.6M408.0 297.0h0.6M545.0 276.0h0.6M546.0 282.0h0.6M546.0 288.0h0.6M546.0 294.0h0.6M584.0 282.0h0.6M679.0 265.0h0.6M678.0 271.0h0.6M659.0 282.0h0.6M367.0 264.4h0.6M369.0 266.0h0.6M368.0 267.6h0.6" fill="none" stroke="#111" stroke-width="1.15" stroke-linecap="round"/>
<path d="M677.0 369.0 L680.0 367.0 L684.4 368.0 L683.6 373.0 L681.0 375.6 L678.0 373.6 L677.0 369.0 M729.0 359.0 L731.0 363.0 L734.0 366.0 L736.0 365.0 M608.0 307.0 L616.0 308.4 L624.0 310.0 L632.0 310.4 L640.0 311.0 L644.0 310.0 M632.0 294.0 L640.0 293.0 L637.0 297.0 L640.0 300.0 L636.0 305.0 L633.0 301.0 L632.0 294.0 M559.0 279.0 L561.6 280.4 L562.0 283.6 L559.6 285.0 L558.0 282.4 L559.0 279.0 M633.6 249.6 L635.4 250.4 L634.8 255.0 L632.8 254.0 L633.6 249.6 M612.0 258.4 L614.4 259.2 L614.0 261.6 L611.6 261.2 L612.0 258.4 M645.5 222.0 L649.0 219.0 L654.0 216.5 L655.5 217.5 L653.0 220.0 L650.0 222.0 L649.0 225.0 L650.0 228.0 L651.0 231.0 L649.0 233.0 L646.5 232.0 L645.0 229.0 L644.0 226.0 M672.5 196.0 L674.0 195.5 L675.0 200.0 L676.5 205.0 L677.5 208.5 L676.0 208.0 L674.5 205.0 L673.0 200.0 L672.5 196.0 M652.0 236.0 L656.0 237.0 L655.0 241.0 L652.0 240.0 L652.0 236.0 M679.0 216.0 L684.0 213.0 M687.0 211.0 L692.0 207.0 M695.0 205.0 L700.0 200.0 M83.0 439.6 L100.0 441.0 L120.0 438.0 L140.0 434.4 L146.0 433.6 L164.0 431.0 L182.0 429.6 L200.0 431.0 L220.0 433.0 L227.0 432.0 L224.0 429.0 L236.0 428.0 L240.0 429.0 L270.0 429.0 L279.0 428.0 L274.0 425.0 L284.0 422.0 L296.0 416.0 L299.0 413.0 L308.0 411.6 L302.0 414.4 L300.0 432.0 L320.0 438.0 L332.0 439.0 L360.0 436.0 L370.0 432.0 L380.0 429.0 L390.0 426.4 L400.0 425.6 L410.0 422.8 L420.0 424.4 L430.0 424.0 L440.0 423.6 L450.0 425.0 L460.0 424.4 L472.0 422.4 L484.0 423.0 L492.0 420.0 L500.0 418.4 L508.0 416.4 L520.0 418.4 L532.0 419.6 L542.0 421.0 L550.0 423.6 L560.0 418.0 L572.0 417.0 L580.0 418.0 L588.0 415.6 L600.0 415.6 L610.0 418.0 L624.0 417.0 L632.0 418.0 L648.0 418.4 L660.0 416.4 L668.0 418.0 L680.0 419.6 L686.0 421.0 L692.0 422.4 L704.0 425.0 L716.0 427.0 L724.0 428.0 L720.0 431.0 L712.0 433.0 L709.6 436.0 L712.0 438.4 L718.0 437.0 L726.0 436.4 L742.0 437.6 M447.0 176.5 L453.0 174.2 L458.2 175.0 L457.5 177.2 L452.2 179.5 L450.0 182.5 L447.8 184.0 L444.8 184.8 L442.5 187.8 L444.0 192.2 L441.0 195.2 L439.5 196.8 L443.2 196.0 L448.5 195.2 L451.5 192.2 L450.8 189.2 L453.0 187.0 L456.0 186.2 L462.0 185.5 L468.0 184.8 L472.5 184.0 L471.8 182.5 L466.5 183.2 L460.5 184.8 L454.5 184.8 M433.5 192.2 L435.0 195.2 L438.0 196.8 L436.5 193.8 L433.5 192.2 M471.8 172.8 L476.2 174.2 L480.0 176.5 L478.5 178.8 L475.5 176.5 L477.0 181.0 L475.5 182.5 M83.0 164.0 L87.0 165.0 L83.0 166.0 M100.0 171.0 L106.0 170.0 L112.0 171.0 L120.0 173.0 L114.0 175.0 L108.0 176.0 L112.0 179.0 L119.0 180.4 L110.0 182.0 L108.0 185.0 L113.0 187.0 L120.0 188.0 M130.0 186.0 L123.0 189.0 L118.0 191.0 L110.0 195.0 L102.0 198.0 M86.0 199.6 L96.0 200.0 M99.0 190.0 L102.0 191.6 M264.0 251.6 L269.0 252.0 L276.0 254.4 L283.0 257.6 L287.0 259.6 L282.0 259.0 L275.0 256.0 L268.0 254.0 L264.0 253.0 L264.0 251.6 M201.0 237.0 L203.0 240.0 L206.0 245.0 L210.0 251.0 L211.0 253.0 L209.0 250.0 L206.0 246.0 L203.0 242.0 L201.0 239.0 L201.0 237.0 M318.0 296.0 L321.0 295.0 L323.0 297.0 L320.0 299.0 L318.0 298.0 L318.0 296.0 M280.0 275.6 L282.0 277.6 L280.4 279.2 L279.6 277.2 L280.0 275.6 M247.0 207.0 L252.0 205.0 L260.0 207.0 L258.0 209.0 L251.0 209.0 L247.0 207.0 M254.0 210.0 L256.0 216.0 L253.6 217.0 L252.4 212.0 L254.0 210.0 M259.0 209.0 L264.0 211.0 L265.0 215.0 L261.0 214.0 L259.0 209.0 M262.0 217.0 L269.0 215.0 L270.0 216.0 L263.6 218.4 L262.0 217.0 M270.0 214.0 L274.0 213.0 L274.4 214.4 L270.4 215.2 L270.0 214.0 M210.0 181.0 L217.0 179.6 L218.0 181.0 L211.0 182.4 L210.0 181.0 M208.0 187.0 L216.0 186.0 L217.0 187.6 L209.0 188.4 L208.0 187.0 M228.0 197.0 L230.0 200.0 L232.0 204.0 L230.0 205.0 L228.0 201.0 L228.0 197.0 M224.0 189.0 L226.0 188.0 L226.4 192.0 L224.4 192.4 L224.0 189.0 M309.0 209.0 L312.0 208.0 L316.0 209.0 L315.0 205.0 L311.0 203.0 L308.0 205.0 L304.0 208.0 M520.0 147.0 L525.0 146.0 L530.0 147.6 L526.0 148.8 L521.0 149.6 M520.0 156.0 L528.0 154.4 L538.0 154.0 L532.0 156.4 L522.0 158.0 M534.0 164.0 L539.0 162.0 L542.0 165.0 L545.0 168.0 L542.0 171.0 L546.0 173.0 L552.0 171.0 L556.0 169.0 L560.0 165.0 L564.0 166.0 L561.0 163.0 M602.0 162.0 L610.0 160.0 L620.0 158.0 M602.0 201.0 L608.0 199.0 L612.0 195.0 L613.0 193.0 M546.0 211.0 L550.0 209.6 L557.0 209.6 M520.0 211.0 L524.0 210.0 L525.0 213.0 L521.0 215.0 M256.1 146.3 L252.9 147.4 L250.0 147.7 L252.9 146.7 L249.9 146.4 M251.5 152.3 L253.8 150.9 L251.8 151.4 M291.1 152.7 L287.8 151.7 L288.2 150.3 L287.7 150.5 M270.0 152.4 L267.7 152.7 L268.7 152.2 L269.0 150.7 L265.8 149.6 M276.1 150.4 L275.9 151.9 L274.9 151.0 L272.6 152.0 M242.6 148.5 L245.3 149.3 L243.8 151.1 L241.0 150.8 M280.4 146.3 L279.8 147.9 L276.8 148.2 L278.9 149.3 M257.0 149.3 L257.6 149.1 L260.1 150.7 L259.9 151.3 M241.4 154.5 L242.0 155.2 L241.6 156.0 L244.4 155.4 L247.5 154.9 M272.2 151.4 L274.1 150.1 L272.3 149.7 M286.8 145.2 L286.1 144.4 L283.5 144.2 L283.8 144.9 M293.2 154.2 L296.5 153.0 L294.2 152.0 L292.3 152.0 M271.0 147.9 L268.4 148.1 L269.2 147.4 M245.0 156.9 L246.1 157.8 L245.8 159.1 L249.1 159.7 L249.5 159.4 M260.1 151.2 L256.9 149.7 L254.8 148.4 L253.7 146.8 M238.0 146.3 L241.2 146.7 L238.2 145.6 M259.1 153.5 L259.8 153.4 L257.0 153.4 L260.5 153.3 M255.5 146.2 L254.3 145.3 L256.7 144.1 L253.3 145.7 L253.5 144.4 M268.4 144.4 L267.0 144.9 L264.0 146.2 L264.2 147.6 L263.1 146.6 M268.3 151.5 L266.3 152.7 L269.8 153.9 L272.0 155.1 L273.8 154.1 M267.0 149.3 L270.5 150.4 L270.3 149.3 M271.9 149.2 L275.4 150.8 L274.4 149.8 L272.5 148.7 L270.3 149.2 M288.4 156.6 L291.4 156.0 L292.4 157.2 L289.7 156.8 M277.8 147.0 L277.4 147.5 L274.4 149.1 M278.4 150.9 L281.6 151.8 L279.3 150.4 L276.8 151.9 L279.0 150.6 M284.3 158.7 L287.4 157.5 L287.8 155.7 L289.9 156.6 L287.1 157.5 M245.8 158.8 L248.1 157.8 L246.4 157.0 M251.5 152.8 L251.8 154.0 L248.6 154.9 L251.5 155.4 M283.6 151.8 L281.0 150.5 L281.1 151.8 L283.1 152.2 L285.0 151.0 M245.9 153.3 L246.3 152.7 L246.5 152.9 M281.9 145.6 L278.7 144.5 L275.4 143.0 L275.1 141.3 L277.9 139.8 M256.2 158.6 L256.3 159.3 L256.0 159.4 L255.8 161.0 L257.3 162.4 M290.8 147.9 L293.6 146.8 L293.2 146.5 L292.4 145.9 L293.7 145.6 M249.9 148.5 L252.8 147.3 L254.3 147.9 M244.3 167.8 L242.3 169.5 L241.5 169.4 L245.1 170.6 M245.1 163.3 L244.4 163.0 L243.4 161.6 L242.4 161.0 L242.1 161.7 M254.9 164.2 L255.0 162.6 L258.5 163.6 L261.9 162.2 M249.7 159.4 L248.0 158.1 L247.5 159.5 M274.0 161.6 L274.3 161.6 L274.3 161.0 M250.3 167.0 L249.7 165.5 L252.9 165.9 M273.3 159.8 L270.2 161.1 L269.8 160.6 M262.3 168.3 L263.2 166.6 L264.7 168.2 L268.1 167.3 M246.0 168.3 L244.6 169.3 L243.1 169.3 L240.7 168.7 L237.3 167.8 M238.7 166.3 L242.1 166.4 L240.3 166.2 L241.4 166.7 L242.6 166.9 M277.1 168.7 L278.5 170.4 L277.3 171.6 L278.8 172.1 M255.8 162.5 L258.2 160.7 L259.1 162.1 M257.0 159.6 L259.4 160.9 L260.6 160.1 L258.8 159.4 L258.5 158.1 M257.6 161.6 L261.0 161.8 L259.2 163.5 L257.8 163.0 M238.0 162.8 L236.5 163.4 L234.6 164.4 L231.7 165.5 M244.3 164.9 L240.9 164.2 L239.0 164.5 L239.2 165.4 M218.2 164.0 L217.4 163.4 L220.9 162.1 L222.5 162.7 L219.2 163.9 M230.4 162.8 L231.8 162.8 L234.8 163.7 L235.3 164.8 L231.8 165.5 M225.5 164.0 L226.5 162.5 L223.2 163.0 L226.5 162.5 L226.2 160.9 M185.0 161.4 L184.9 159.7 L187.0 160.5 M210.2 161.5 L210.3 162.4 L210.2 163.5 L212.6 162.5 L214.5 161.6 M217.8 160.4 L214.7 161.9 L213.2 160.3 L214.2 159.2 M215.2 158.6 L216.9 157.9 L217.4 156.2 L214.3 155.4 L215.5 156.0 M219.1 158.1 L217.6 157.9 L219.5 159.7 L219.9 159.0 L216.9 158.9 M199.1 155.1 L202.4 154.9 L200.8 153.8 L204.0 152.8 L204.6 151.5 M211.3 167.3 L212.0 167.8 L210.4 166.4 M203.0 161.0 L202.2 159.7 L205.5 160.4 L204.8 161.2 M205.6 159.3 L208.1 157.5 L209.9 158.7 M190.2 167.0 L186.7 167.8 L184.9 166.3 L184.2 167.6 L181.1 169.1 M223.3 166.0 L220.4 167.2 L218.9 168.7 L217.1 167.9 M210.6 156.7 L212.6 156.4 L209.2 157.3 L208.5 158.7 M212.8 156.8 L209.6 157.7 L209.2 158.6 M217.5 158.0 L220.5 158.2 L218.1 157.9 M198.7 157.6 L202.1 156.7 L203.2 156.0 L203.6 155.6 L201.2 154.4 M194.8 166.7 L195.2 166.5 L194.0 167.4 L193.4 167.6 M196.7 156.4 L193.7 155.5 L192.0 155.8 L194.8 156.7 L194.2 156.3 M211.3 159.3 L213.1 159.3 L213.6 158.8 L215.0 158.9 M225.1 165.9 L223.4 165.0 L222.7 164.8 M233.6 165.9 L230.9 165.6 L232.8 166.7 M234.4 160.9 L233.6 162.4 L235.9 163.7 M234.6 157.5 L232.6 156.2 L236.0 154.8 M226.9 163.8 L223.9 164.8 L220.3 163.5 L220.8 161.8 M221.2 167.5 L219.4 168.0 L220.8 166.6 L217.7 166.7 L218.3 166.3 M195.6 162.4 L195.9 164.2 L194.3 163.5 M227.6 157.4 L225.7 156.5 L229.1 157.2 L227.7 155.5 L227.7 156.1 M205.8 157.6 L205.3 157.1 L205.2 157.8 L206.8 157.3 L206.1 155.6 M290.2 155.5 L288.1 157.1 L286.7 158.3 M288.5 149.2 L285.6 149.7 L286.4 151.1 L286.3 152.6 M283.6 152.9 L280.4 151.2 L281.1 150.9 L282.6 149.8 M294.6 154.1 L296.3 155.9 L299.4 155.3 L297.1 156.9 M302.9 147.3 L304.5 148.5 L308.0 148.3 L305.2 146.8 L302.2 146.5 M306.8 152.6 L305.9 153.6 L304.5 154.7 M284.5 154.1 L283.5 155.6 L281.3 155.1 M307.1 147.3 L305.3 147.8 L304.6 147.3 L304.4 148.4 M196.6 172.1 L198.5 171.7 L197.4 172.8 M219.9 173.2 L220.8 174.2 L219.9 174.7 L220.3 175.5 L222.5 174.4 M228.7 170.7 L230.9 171.8 L230.3 171.2 L230.0 171.2 L232.1 170.4 M227.7 180.8 L229.0 181.1 L228.2 180.6 L227.5 181.3 L225.5 180.6 M225.6 173.0 L226.3 172.9 L226.6 172.1 M211.9 170.7 L210.8 169.7 L208.8 169.7 M223.8 176.2 L222.0 176.1 L223.9 175.4 M216.6 181.4 L218.0 180.9 L216.9 180.3 M436.0 270.0 L440.0 271.0 L439.0 272.4 L436.4 271.6 L436.0 270.0 M410.0 279.6 L413.0 280.0 L412.4 283.0 L410.4 282.4 L410.0 279.6 M470.0 296.0 L474.0 295.0 L475.6 298.0 L473.0 300.4 L470.0 299.0 L470.0 296.0 M465.6 302.0 L467.0 307.0 L469.0 311.0 M474.0 313.0 L475.0 318.0 L476.0 322.0 M478.0 287.0 L479.6 291.0 M461.0 327.0 L465.0 325.6 M468.0 292.0 L469.6 293.0 M422.0 298.0 L423.6 295.6 M425.0 293.6 L426.4 291.6 M660.0 157.0 L668.0 156.0 L676.0 157.0 L672.0 158.4 L664.0 158.0 M578.0 148.0 L586.0 147.0 L596.0 149.0 L606.0 151.0 L610.0 154.0 M580.0 150.0 L590.0 151.6 L600.0 153.0 M119.0 255.0 L123.0 255.6 L127.0 258.0 L128.0 259.6 M119.4 255.4 L123.2 256.2 L126.6 258.4 L127.6 259.6" fill="none" stroke="#000" stroke-width="1.1" stroke-linejoin="round" stroke-linecap="round"/>
</g>
<rect x="83.0" y="131.0" width="659.0" height="329.6" fill="none" stroke="#222" stroke-width="1.3"/>
<path d="M83.00 131.00v7.5M83.00 460.60v-7.5M101.31 131.00v3.8M101.31 460.60v-3.8M119.61 131.00v3.8M119.61 460.60v-3.8M137.92 131.00v3.8M137.92 460.60v-3.8M156.22 131.00v3.8M156.22 460.60v-3.8M174.53 131.00v3.8M174.53 460.60v-3.8M192.83 131.00v7.5M192.83 460.60v-7.5M211.14 131.00v3.8M211.14 460.60v-3.8M229.44 131.00v3.8M229.44 460.60v-3.8M247.75 131.00v3.8M247.75 460.60v-3.8M266.06 131.00v3.8M266.06 460.60v-3.8M284.36 131.00v3.8M284.36 460.60v-3.8M302.67 131.00v7.5M302.67 460.60v-7.5M320.97 131.00v3.8M320.97 460.60v-3.8M339.28 131.00v3.8M339.28 460.60v-3.8M357.58 131.00v3.8M357.58 460.60v-3.8M375.89 131.00v3.8M375.89 460.60v-3.8M394.19 131.00v3.8M394.19 460.60v-3.8M412.50 131.00v7.5M412.50 460.60v-7.5M430.81 131.00v3.8M430.81 460.60v-3.8M449.11 131.00v3.8M449.11 460.60v-3.8M467.42 131.00v3.8M467.42 460.60v-3.8M485.72 131.00v3.8M485.72 460.60v-3.8M504.03 131.00v3.8M504.03 460.60v-3.8M522.33 131.00v7.5M522.33 460.60v-7.5M540.64 131.00v3.8M540.64 460.60v-3.8M558.94 131.00v3.8M558.94 460.60v-3.8M577.25 131.00v3.8M577.25 460.60v-3.8M595.56 131.00v3.8M595.56 460.60v-3.8M613.86 131.00v3.8M613.86 460.60v-3.8M632.17 131.00v7.5M632.17 460.60v-7.5M650.47 131.00v3.8M650.47 460.60v-3.8M668.78 131.00v3.8M668.78 460.60v-3.8M687.08 131.00v3.8M687.08 460.60v-3.8M705.39 131.00v3.8M705.39 460.60v-3.8M723.69 131.00v3.8M723.69 460.60v-3.8M742.00 131.00v7.5M742.00 460.60v-7.5M83.00 442.19h8.0M742.00 442.19h-8.0M83.00 423.89h4.0M742.00 423.89h-4.0M83.00 405.58h4.0M742.00 405.58h-4.0M83.00 387.28h4.0M742.00 387.28h-4.0M83.00 368.97h8.0M742.00 368.97h-8.0M83.00 350.67h4.0M742.00 350.67h-4.0M83.00 332.36h4.0M742.00 332.36h-4.0M83.00 314.06h4.0M742.00 314.06h-4.0M83.00 295.75h8.0M742.00 295.75h-8.0M83.00 277.44h4.0M742.00 277.44h-4.0M83.00 259.14h4.0M742.00 259.14h-4.0M83.00 240.83h4.0M742.00 240.83h-4.0M83.00 222.53h8.0M742.00 222.53h-8.0M83.00 204.22h4.0M742.00 204.22h-4.0M83.00 185.92h4.0M742.00 185.92h-4.0M83.00 167.61h4.0M742.00 167.61h-4.0M83.00 149.31h8.0M742.00 149.31h-8.0" stroke="#111" stroke-width="1" fill="none"/>
<text x="74" y="154.1" font-size="14.5" text-anchor="end">80N</text>
<text x="74" y="227.3" font-size="14.5" text-anchor="end">40N</text>
<text x="74" y="300.6" font-size="14.5" text-anchor="end">0</text>
<text x="74" y="373.8" font-size="14.5" text-anchor="end">40S</text>
<text x="74" y="447.0" font-size="14.5" text-anchor="end">80S</text>
<text x="83.0" y="480.7" font-size="14.5" text-anchor="middle">180</text>
<text x="192.8" y="480.7" font-size="14.5" text-anchor="middle">120W</text>
<text x="302.7" y="480.7" font-size="14.5" text-anchor="middle">60W</text>
<text x="412.5" y="480.7" font-size="14.5" text-anchor="middle">0</text>
<text x="522.3" y="480.7" font-size="14.5" text-anchor="middle">60E</text>
<text x="632.2" y="480.7" font-size="14.5" text-anchor="middle">120E</text>
<text x="742.0" y="480.7" font-size="14.5" text-anchor="middle">180</text>
<text x="412.5" y="82" font-size="31" text-anchor="middle">Mixed Layer depth (in m)</text>
<text x="263" y="108" font-size="15.5">rmsd= 3.23477 diff= 0.206272</text>
<text x="322" y="120.5" font-size="17.3">3516kyr BP - 3516kyr BP</text>
<text x="83" y="127" font-size="17.3">Expt = tFMdD-tEWtD</text>
<text x="742" y="124" font-size="17.3" text-anchor="end">ANN</text>
<rect x="84.40" y="502.7" width="38.84" height="12.7" fill="#8200dc"/>
<rect x="122.94" y="502.7" width="38.84" height="12.7" fill="#6400d2"/>
<rect x="161.48" y="502.7" width="38.84" height="12.7" fill="#4600d2"/>
<rect x="200.02" y="502.7" width="38.84" height="12.7" fill="#3020d8"/>
<rect x="238.56" y="502.7" width="38.84" height="12.7" fill="#1050e0"/>
<rect x="277.10" y="502.7" width="38.84" height="12.7" fill="#0a82e0"/>
<rect x="315.64" y="502.7" width="38.84" height="12.7" fill="#0aa0e0"/>
<rect x="354.18" y="502.7" width="38.84" height="12.7" fill="#10bce0"/>
<rect x="392.72" y="502.7" width="38.84" height="12.7" fill="#e6e6e6"/>
<rect x="431.26" y="502.7" width="38.84" height="12.7" fill="#10dc82"/>
<rect x="469.80" y="502.7" width="38.84" height="12.7" fill="#3cd214"/>
<rect x="508.34" y="502.7" width="38.84" height="12.7" fill="#aadc14"/>
<rect x="546.88" y="502.7" width="38.84" height="12.7" fill="#dcc814"/>
<rect x="585.42" y="502.7" width="38.84" height="12.7" fill="#e6a00a"/>
<rect x="623.96" y="502.7" width="38.84" height="12.7" fill="#e66e0a"/>
<rect x="662.50" y="502.7" width="38.84" height="12.7" fill="#e63c0a"/>
<rect x="701.04" y="502.7" width="38.84" height="12.7" fill="#e6140a"/>
<path d="M122.94 502.7V515.4M161.48 502.7V515.4M200.02 502.7V515.4M238.56 502.7V515.4M277.10 502.7V515.4M315.64 502.7V515.4M354.18 502.7V515.4M392.72 502.7V515.4M431.26 502.7V515.4M469.80 502.7V515.4M508.34 502.7V515.4M546.88 502.7V515.4M585.42 502.7V515.4M623.96 502.7V515.4M662.50 502.7V515.4M701.04 502.7V515.4" stroke="#222" stroke-width="0.8" fill="none"/>
<rect x="84.40" y="502.7" width="655.18" height="12.7" fill="none" stroke="#333" stroke-width="0.9"/>
<text x="122.9" y="531.8" font-size="18" text-anchor="middle">-150</text>
<text x="200.0" y="531.8" font-size="18" text-anchor="middle">-70</text>
<text x="277.1" y="531.8" font-size="18" text-anchor="middle">-30</text>
<text x="354.2" y="531.8" font-size="18" text-anchor="middle">-5</text>
<text x="431.3" y="531.8" font-size="18" text-anchor="middle">2</text>
<text x="508.3" y="531.8" font-size="18" text-anchor="middle">10</text>
<text x="585.4" y="531.8" font-size="18" text-anchor="middle">50</text>
<text x="662.5" y="531.8" font-size="18" text-anchor="middle">110</text>
</svg></body></html>
